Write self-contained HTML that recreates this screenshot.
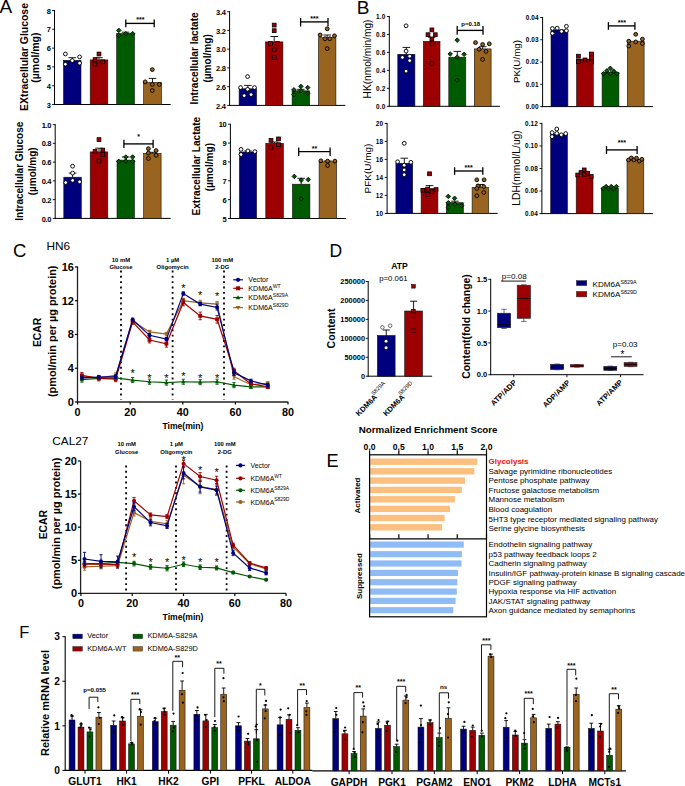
<!DOCTYPE html>
<html><head><meta charset="utf-8"><style>
html,body{margin:0;padding:0;background:#fff;}
body{width:685px;height:786px;overflow:hidden;font-family:"Liberation Sans",sans-serif;}
svg{display:block;}
</style></head><body>
<svg width="685" height="786" viewBox="0 0 685 786" font-family="&apos;Liberation Sans&apos;, sans-serif"><text x="-0.6" y="13.1" font-size="19" fill="#000">A</text>
<text x="356.7" y="13.7" font-size="19" fill="#000">B</text>
<text x="13" y="256.8" font-size="18.5" fill="#000">C</text>
<text x="329.5" y="256.7" font-size="17.5" fill="#000">D</text>
<text x="326.6" y="466.6" font-size="18.2" fill="#000">E</text>
<text x="19.3" y="637.8" font-size="16.5" fill="#000">F</text>
<line x1="54.5" y1="10" x2="54.5" y2="104.95" stroke="#000" stroke-width="1"/>
<line x1="54" y1="104.5" x2="170.7" y2="104.5" stroke="#000" stroke-width="1"/>
<line x1="52.1" y1="10.5" x2="54.5" y2="10.5" stroke="#000" stroke-width="0.9"/>
<text x="50.5" y="13.6" font-size="7.5" font-weight="bold" text-anchor="end" fill="#000" letter-spacing="-0.3">8</text>
<line x1="52.1" y1="29.3" x2="54.5" y2="29.3" stroke="#000" stroke-width="0.9"/>
<text x="50.5" y="32.4" font-size="7.5" font-weight="bold" text-anchor="end" fill="#000" letter-spacing="-0.3">7</text>
<line x1="52.1" y1="48.1" x2="54.5" y2="48.1" stroke="#000" stroke-width="0.9"/>
<text x="50.5" y="51.2" font-size="7.5" font-weight="bold" text-anchor="end" fill="#000" letter-spacing="-0.3">6</text>
<line x1="52.1" y1="66.9" x2="54.5" y2="66.9" stroke="#000" stroke-width="0.9"/>
<text x="50.5" y="70" font-size="7.5" font-weight="bold" text-anchor="end" fill="#000" letter-spacing="-0.3">5</text>
<line x1="52.1" y1="85.7" x2="54.5" y2="85.7" stroke="#000" stroke-width="0.9"/>
<text x="50.5" y="88.8" font-size="7.5" font-weight="bold" text-anchor="end" fill="#000" letter-spacing="-0.3">4</text>
<line x1="52.1" y1="104.5" x2="54.5" y2="104.5" stroke="#000" stroke-width="0.9"/>
<text x="50.5" y="107.6" font-size="7.5" font-weight="bold" text-anchor="end" fill="#000" letter-spacing="-0.3">3</text>
<rect x="63.5" y="60.3" width="17.5" height="44.2" fill="#00007e" stroke="#111" stroke-width="0.6"/>
<line x1="72.25" y1="60.3" x2="72.25" y2="57.7" stroke="#000" stroke-width="0.9"/>
<line x1="68.45" y1="57.7" x2="76.05" y2="57.7" stroke="#000" stroke-width="0.9"/>
<circle cx="65.4" cy="54" r="1.9" fill="#ffffff" stroke="#000" stroke-width="0.95"/>
<circle cx="65.4" cy="64.2" r="1.9" fill="#ffffff" stroke="#000" stroke-width="0.95"/>
<circle cx="72.3" cy="60.6" r="1.9" fill="#ffffff" stroke="#000" stroke-width="0.95"/>
<circle cx="79.6" cy="56.9" r="1.9" fill="#ffffff" stroke="#000" stroke-width="0.95"/>
<circle cx="79.6" cy="63.1" r="1.9" fill="#ffffff" stroke="#000" stroke-width="0.95"/>
<rect x="90.2" y="59.9" width="17.6" height="44.6" fill="#9c0000" stroke="#111" stroke-width="0.6"/>
<line x1="99" y1="59.9" x2="99" y2="57.7" stroke="#000" stroke-width="0.9"/>
<line x1="95.2" y1="57.7" x2="102.8" y2="57.7" stroke="#000" stroke-width="0.9"/>
<rect x="97.1" y="52.1" width="3.8" height="3.8" fill="#9c0000" stroke="#000" stroke-width="0.8"/>
<rect x="93.2" y="57.7" width="3.8" height="3.8" fill="#9c0000" stroke="#000" stroke-width="0.8"/>
<rect x="93.2" y="62.3" width="3.8" height="3.8" fill="#9c0000" stroke="#000" stroke-width="0.8"/>
<rect x="100.9" y="59.9" width="3.8" height="3.8" fill="#9c0000" stroke="#000" stroke-width="0.8"/>
<rect x="116.7" y="33.6" width="17.8" height="70.9" fill="#005a00" stroke="#111" stroke-width="0.6"/>
<line x1="125.6" y1="33.6" x2="125.6" y2="32.2" stroke="#000" stroke-width="0.9"/>
<line x1="121.8" y1="32.2" x2="129.4" y2="32.2" stroke="#000" stroke-width="0.9"/>
<polygon points="118.8,28.12 121.08,30.4 118.8,32.68 116.52,30.4" fill="#005a00" stroke="#000" stroke-width="0.8"/>
<polygon points="118.8,33.22 121.08,35.5 118.8,37.78 116.52,35.5" fill="#005a00" stroke="#000" stroke-width="0.8"/>
<polygon points="125.8,31.32 128.08,33.6 125.8,35.88 123.52,33.6" fill="#005a00" stroke="#000" stroke-width="0.8"/>
<polygon points="132.6,31.32 134.88,33.6 132.6,35.88 130.32,33.6" fill="#005a00" stroke="#000" stroke-width="0.8"/>
<rect x="143.6" y="82.5" width="17.9" height="22" fill="#98641f" stroke="#111" stroke-width="0.6"/>
<line x1="152.55" y1="82.5" x2="152.55" y2="78.4" stroke="#000" stroke-width="0.9"/>
<line x1="148.75" y1="78.4" x2="156.35" y2="78.4" stroke="#000" stroke-width="0.9"/>
<circle cx="152.3" cy="69.6" r="1.9" fill="#98641f" stroke="#000" stroke-width="0.95"/>
<circle cx="145.2" cy="81.8" r="1.9" fill="#98641f" stroke="#000" stroke-width="0.95"/>
<circle cx="152.3" cy="84.4" r="1.9" fill="#98641f" stroke="#000" stroke-width="0.95"/>
<circle cx="159.3" cy="84.4" r="1.9" fill="#98641f" stroke="#000" stroke-width="0.95"/>
<circle cx="152.3" cy="90.5" r="1.9" fill="#98641f" stroke="#000" stroke-width="0.95"/>
<text x="0" y="0" font-size="10.45" font-weight="bold" text-anchor="middle" fill="#000" transform="translate(27.5,57) rotate(-90)">EXtracellular Glucose</text>
<text x="0" y="0" font-size="10.45" font-weight="bold" text-anchor="middle" fill="#000" transform="translate(39.2,57.6) rotate(-90)">(µmol/mg)</text>
<line x1="125.8" y1="23.4" x2="154.2" y2="23.4" stroke="#000" stroke-width="1.35"/>
<line x1="125.8" y1="19.5" x2="125.8" y2="27.3" stroke="#000" stroke-width="1.3"/>
<line x1="154.2" y1="19.5" x2="154.2" y2="27.3" stroke="#000" stroke-width="1.3"/>
<text x="140.4" y="22.11" font-size="7" font-weight="bold" text-anchor="middle" fill="#000">***</text>
<line x1="229.6" y1="11.2" x2="229.6" y2="105.85" stroke="#000" stroke-width="1"/>
<line x1="229.1" y1="105.4" x2="345.4" y2="105.4" stroke="#000" stroke-width="1"/>
<line x1="227.2" y1="11.7" x2="229.6" y2="11.7" stroke="#000" stroke-width="0.9"/>
<text x="225.6" y="14.8" font-size="7.5" font-weight="bold" text-anchor="end" fill="#000" letter-spacing="-0.3">3.4</text>
<line x1="227.2" y1="30.44" x2="229.6" y2="30.44" stroke="#000" stroke-width="0.9"/>
<text x="225.6" y="33.54" font-size="7.5" font-weight="bold" text-anchor="end" fill="#000" letter-spacing="-0.3">3.2</text>
<line x1="227.2" y1="49.18" x2="229.6" y2="49.18" stroke="#000" stroke-width="0.9"/>
<text x="225.6" y="52.28" font-size="7.5" font-weight="bold" text-anchor="end" fill="#000" letter-spacing="-0.3">3.0</text>
<line x1="227.2" y1="67.92" x2="229.6" y2="67.92" stroke="#000" stroke-width="0.9"/>
<text x="225.6" y="71.02" font-size="7.5" font-weight="bold" text-anchor="end" fill="#000" letter-spacing="-0.3">2.8</text>
<line x1="227.2" y1="86.66" x2="229.6" y2="86.66" stroke="#000" stroke-width="0.9"/>
<text x="225.6" y="89.76" font-size="7.5" font-weight="bold" text-anchor="end" fill="#000" letter-spacing="-0.3">2.6</text>
<line x1="227.2" y1="105.4" x2="229.6" y2="105.4" stroke="#000" stroke-width="0.9"/>
<text x="225.6" y="108.5" font-size="7.5" font-weight="bold" text-anchor="end" fill="#000" letter-spacing="-0.3">2.4</text>
<rect x="239.1" y="88.8" width="17.5" height="16.6" fill="#00007e" stroke="#111" stroke-width="0.6"/>
<line x1="247.85" y1="88.8" x2="247.85" y2="85.4" stroke="#000" stroke-width="0.9"/>
<line x1="244.05" y1="85.4" x2="251.65" y2="85.4" stroke="#000" stroke-width="0.9"/>
<circle cx="247.6" cy="76.6" r="1.9" fill="#ffffff" stroke="#000" stroke-width="0.95"/>
<circle cx="240.6" cy="87.6" r="1.9" fill="#ffffff" stroke="#000" stroke-width="0.95"/>
<circle cx="247.6" cy="89.3" r="1.9" fill="#ffffff" stroke="#000" stroke-width="0.95"/>
<circle cx="254.5" cy="87.6" r="1.9" fill="#ffffff" stroke="#000" stroke-width="0.95"/>
<circle cx="244.2" cy="95.6" r="1.9" fill="#ffffff" stroke="#000" stroke-width="0.95"/>
<circle cx="251.1" cy="94.6" r="1.9" fill="#ffffff" stroke="#000" stroke-width="0.95"/>
<rect x="265.5" y="41.9" width="17.4" height="63.5" fill="#9c0000" stroke="#111" stroke-width="0.6"/>
<line x1="274.2" y1="41.9" x2="274.2" y2="36.5" stroke="#000" stroke-width="0.9"/>
<line x1="270.4" y1="36.5" x2="278" y2="36.5" stroke="#000" stroke-width="0.9"/>
<rect x="272.3" y="23.2" width="3.8" height="3.8" fill="#9c0000" stroke="#000" stroke-width="0.8"/>
<rect x="272.3" y="28.8" width="3.8" height="3.8" fill="#9c0000" stroke="#000" stroke-width="0.8"/>
<rect x="268.6" y="41.6" width="3.8" height="3.8" fill="#9c0000" stroke="#000" stroke-width="0.8"/>
<rect x="275.6" y="41.6" width="3.8" height="3.8" fill="#9c0000" stroke="#000" stroke-width="0.8"/>
<rect x="272.3" y="47.7" width="3.8" height="3.8" fill="#9c0000" stroke="#000" stroke-width="0.8"/>
<rect x="272.3" y="55.5" width="3.8" height="3.8" fill="#9c0000" stroke="#000" stroke-width="0.8"/>
<rect x="292.1" y="90.8" width="17.5" height="14.6" fill="#005a00" stroke="#111" stroke-width="0.6"/>
<line x1="300.85" y1="90.8" x2="300.85" y2="89.3" stroke="#000" stroke-width="0.9"/>
<line x1="297.05" y1="89.3" x2="304.65" y2="89.3" stroke="#000" stroke-width="0.9"/>
<polygon points="300.9,84.12 303.18,86.4 300.9,88.68 298.62,86.4" fill="#005a00" stroke="#000" stroke-width="0.8"/>
<polygon points="293.9,87.52 296.18,89.8 293.9,92.08 291.62,89.8" fill="#005a00" stroke="#000" stroke-width="0.8"/>
<polygon points="307.7,85.32 309.98,87.6 307.7,89.88 305.42,87.6" fill="#005a00" stroke="#000" stroke-width="0.8"/>
<polygon points="293.9,92.32 296.18,94.6 293.9,96.88 291.62,94.6" fill="#005a00" stroke="#000" stroke-width="0.8"/>
<polygon points="307.7,91.12 309.98,93.4 307.7,95.68 305.42,93.4" fill="#005a00" stroke="#000" stroke-width="0.8"/>
<polygon points="300.9,88.52 303.18,90.8 300.9,93.08 298.62,90.8" fill="#005a00" stroke="#000" stroke-width="0.8"/>
<rect x="318.4" y="37.7" width="17.5" height="67.7" fill="#98641f" stroke="#111" stroke-width="0.6"/>
<line x1="327.15" y1="37.7" x2="327.15" y2="35" stroke="#000" stroke-width="0.9"/>
<line x1="323.35" y1="35" x2="330.95" y2="35" stroke="#000" stroke-width="0.9"/>
<circle cx="327.2" cy="28.8" r="1.9" fill="#98641f" stroke="#000" stroke-width="0.95"/>
<circle cx="320.1" cy="35" r="1.9" fill="#98641f" stroke="#000" stroke-width="0.95"/>
<circle cx="334.5" cy="35.8" r="1.9" fill="#98641f" stroke="#000" stroke-width="0.95"/>
<circle cx="325" cy="38.7" r="1.9" fill="#98641f" stroke="#000" stroke-width="0.95"/>
<circle cx="329.8" cy="38.7" r="1.9" fill="#98641f" stroke="#000" stroke-width="0.95"/>
<circle cx="327.2" cy="48.6" r="1.9" fill="#98641f" stroke="#000" stroke-width="0.95"/>
<text x="0" y="0" font-size="10.1" font-weight="bold" text-anchor="middle" fill="#000" transform="translate(198.2,58.4) rotate(-90)">Intracellular lactate</text>
<text x="0" y="0" font-size="10.1" font-weight="bold" text-anchor="middle" fill="#000" transform="translate(210.7,58.4) rotate(-90)">(µmol/mg)</text>
<line x1="300.6" y1="21.9" x2="328" y2="21.9" stroke="#000" stroke-width="1.35"/>
<line x1="300.6" y1="18" x2="300.6" y2="26.5" stroke="#000" stroke-width="1.3"/>
<line x1="328" y1="18" x2="328" y2="26.5" stroke="#000" stroke-width="1.3"/>
<text x="314.3" y="20.71" font-size="7" font-weight="bold" text-anchor="middle" fill="#000">***</text>
<line x1="55.2" y1="124.1" x2="55.2" y2="218.85" stroke="#000" stroke-width="1"/>
<line x1="54.7" y1="218.4" x2="170.7" y2="218.4" stroke="#000" stroke-width="1"/>
<line x1="52.8" y1="124.6" x2="55.2" y2="124.6" stroke="#000" stroke-width="0.9"/>
<text x="51.2" y="127.7" font-size="7.5" font-weight="bold" text-anchor="end" fill="#000" letter-spacing="-0.3">1.0</text>
<line x1="52.8" y1="143.36" x2="55.2" y2="143.36" stroke="#000" stroke-width="0.9"/>
<text x="51.2" y="146.46" font-size="7.5" font-weight="bold" text-anchor="end" fill="#000" letter-spacing="-0.3">0.8</text>
<line x1="52.8" y1="162.12" x2="55.2" y2="162.12" stroke="#000" stroke-width="0.9"/>
<text x="51.2" y="165.22" font-size="7.5" font-weight="bold" text-anchor="end" fill="#000" letter-spacing="-0.3">0.6</text>
<line x1="52.8" y1="180.88" x2="55.2" y2="180.88" stroke="#000" stroke-width="0.9"/>
<text x="51.2" y="183.98" font-size="7.5" font-weight="bold" text-anchor="end" fill="#000" letter-spacing="-0.3">0.4</text>
<line x1="52.8" y1="199.64" x2="55.2" y2="199.64" stroke="#000" stroke-width="0.9"/>
<text x="51.2" y="202.74" font-size="7.5" font-weight="bold" text-anchor="end" fill="#000" letter-spacing="-0.3">0.2</text>
<line x1="52.8" y1="218.4" x2="55.2" y2="218.4" stroke="#000" stroke-width="0.9"/>
<text x="51.2" y="221.5" font-size="7.5" font-weight="bold" text-anchor="end" fill="#000" letter-spacing="-0.3">0.0</text>
<rect x="63.8" y="177.2" width="17.5" height="41.2" fill="#00007e" stroke="#111" stroke-width="0.6"/>
<line x1="72.55" y1="177.2" x2="72.55" y2="173.1" stroke="#000" stroke-width="0.9"/>
<line x1="68.75" y1="173.1" x2="76.35" y2="173.1" stroke="#000" stroke-width="0.9"/>
<circle cx="72.6" cy="166.2" r="1.9" fill="#ffffff" stroke="#000" stroke-width="0.95"/>
<circle cx="72.6" cy="173.1" r="1.9" fill="#ffffff" stroke="#000" stroke-width="0.95"/>
<circle cx="65.7" cy="182.6" r="1.9" fill="#ffffff" stroke="#000" stroke-width="0.95"/>
<circle cx="72.6" cy="180.4" r="1.9" fill="#ffffff" stroke="#000" stroke-width="0.95"/>
<circle cx="79.6" cy="181.8" r="1.9" fill="#ffffff" stroke="#000" stroke-width="0.95"/>
<rect x="90.2" y="151.9" width="17.6" height="66.5" fill="#9c0000" stroke="#111" stroke-width="0.6"/>
<line x1="99" y1="151.9" x2="99" y2="148.2" stroke="#000" stroke-width="0.9"/>
<line x1="95.2" y1="148.2" x2="102.8" y2="148.2" stroke="#000" stroke-width="0.9"/>
<rect x="97.1" y="137.7" width="3.8" height="3.8" fill="#9c0000" stroke="#000" stroke-width="0.8"/>
<rect x="93.2" y="149.4" width="3.8" height="3.8" fill="#9c0000" stroke="#000" stroke-width="0.8"/>
<rect x="100.9" y="148.2" width="3.8" height="3.8" fill="#9c0000" stroke="#000" stroke-width="0.8"/>
<rect x="100.9" y="152.6" width="3.8" height="3.8" fill="#9c0000" stroke="#000" stroke-width="0.8"/>
<rect x="97.1" y="159.2" width="3.8" height="3.8" fill="#9c0000" stroke="#000" stroke-width="0.8"/>
<rect x="117" y="160.1" width="17.5" height="58.3" fill="#005a00" stroke="#111" stroke-width="0.6"/>
<line x1="125.75" y1="160.1" x2="125.75" y2="157" stroke="#000" stroke-width="0.9"/>
<line x1="121.95" y1="157" x2="129.55" y2="157" stroke="#000" stroke-width="0.9"/>
<polygon points="125.8,154.72 128.08,157 125.8,159.28 123.52,157" fill="#005a00" stroke="#000" stroke-width="0.8"/>
<polygon points="132.6,154.72 134.88,157 132.6,159.28 130.32,157" fill="#005a00" stroke="#000" stroke-width="0.8"/>
<polygon points="118.8,159.12 121.08,161.4 118.8,163.68 116.52,161.4" fill="#005a00" stroke="#000" stroke-width="0.8"/>
<polygon points="125.8,158.82 128.08,161.1 125.8,163.38 123.52,161.1" fill="#005a00" stroke="#000" stroke-width="0.8"/>
<polygon points="132.6,159.12 134.88,161.4 132.6,163.68 130.32,161.4" fill="#005a00" stroke="#000" stroke-width="0.8"/>
<rect x="143.6" y="153.4" width="17.5" height="65" fill="#98641f" stroke="#111" stroke-width="0.6"/>
<line x1="152.35" y1="153.4" x2="152.35" y2="152.3" stroke="#000" stroke-width="0.9"/>
<line x1="148.55" y1="152.3" x2="156.15" y2="152.3" stroke="#000" stroke-width="0.9"/>
<circle cx="148.4" cy="148.7" r="1.9" fill="#98641f" stroke="#000" stroke-width="0.95"/>
<circle cx="156.1" cy="150.6" r="1.9" fill="#98641f" stroke="#000" stroke-width="0.95"/>
<circle cx="148.4" cy="153.1" r="1.9" fill="#98641f" stroke="#000" stroke-width="0.95"/>
<circle cx="156.1" cy="155.3" r="1.9" fill="#98641f" stroke="#000" stroke-width="0.95"/>
<circle cx="148.4" cy="158.5" r="1.9" fill="#98641f" stroke="#000" stroke-width="0.95"/>
<text x="0" y="0" font-size="10" font-weight="bold" text-anchor="middle" fill="#000" transform="translate(22.8,171.2) rotate(-90)">Intracellular Glucose</text>
<text x="0" y="0" font-size="10" font-weight="bold" text-anchor="middle" fill="#000" transform="translate(35.8,171.3) rotate(-90)">(µmol/mg)</text>
<line x1="123.9" y1="143.9" x2="153.1" y2="143.9" stroke="#000" stroke-width="1.35"/>
<line x1="123.9" y1="139.7" x2="123.9" y2="147.9" stroke="#000" stroke-width="1.3"/>
<line x1="153.1" y1="139.7" x2="153.1" y2="147.9" stroke="#000" stroke-width="1.3"/>
<text x="138.6" y="139.41" font-size="7" font-weight="bold" text-anchor="middle" fill="#000">*</text>
<line x1="230.4" y1="123.7" x2="230.4" y2="218.95" stroke="#000" stroke-width="1"/>
<line x1="229.9" y1="218.5" x2="346.1" y2="218.5" stroke="#000" stroke-width="1"/>
<line x1="228" y1="124.2" x2="230.4" y2="124.2" stroke="#000" stroke-width="0.9"/>
<text x="226.4" y="127.3" font-size="7.5" font-weight="bold" text-anchor="end" fill="#000" letter-spacing="-0.3">10</text>
<line x1="228" y1="143.06" x2="230.4" y2="143.06" stroke="#000" stroke-width="0.9"/>
<text x="226.4" y="146.16" font-size="7.5" font-weight="bold" text-anchor="end" fill="#000" letter-spacing="-0.3">9</text>
<line x1="228" y1="161.92" x2="230.4" y2="161.92" stroke="#000" stroke-width="0.9"/>
<text x="226.4" y="165.02" font-size="7.5" font-weight="bold" text-anchor="end" fill="#000" letter-spacing="-0.3">8</text>
<line x1="228" y1="180.78" x2="230.4" y2="180.78" stroke="#000" stroke-width="0.9"/>
<text x="226.4" y="183.88" font-size="7.5" font-weight="bold" text-anchor="end" fill="#000" letter-spacing="-0.3">7</text>
<line x1="228" y1="199.64" x2="230.4" y2="199.64" stroke="#000" stroke-width="0.9"/>
<text x="226.4" y="202.74" font-size="7.5" font-weight="bold" text-anchor="end" fill="#000" letter-spacing="-0.3">6</text>
<line x1="228" y1="218.5" x2="230.4" y2="218.5" stroke="#000" stroke-width="0.9"/>
<text x="226.4" y="221.6" font-size="7.5" font-weight="bold" text-anchor="end" fill="#000" letter-spacing="-0.3">5</text>
<rect x="239.4" y="152" width="17.2" height="66.5" fill="#00007e" stroke="#111" stroke-width="0.6"/>
<line x1="248" y1="152" x2="248" y2="151" stroke="#000" stroke-width="0.9"/>
<line x1="244.2" y1="151" x2="251.8" y2="151" stroke="#000" stroke-width="0.9"/>
<circle cx="241" cy="149.4" r="1.9" fill="#ffffff" stroke="#000" stroke-width="0.95"/>
<circle cx="241" cy="154.5" r="1.9" fill="#ffffff" stroke="#000" stroke-width="0.95"/>
<circle cx="247.9" cy="150.9" r="1.9" fill="#ffffff" stroke="#000" stroke-width="0.95"/>
<circle cx="254.9" cy="151.6" r="1.9" fill="#ffffff" stroke="#000" stroke-width="0.95"/>
<rect x="265.8" y="143.3" width="17.6" height="75.2" fill="#9c0000" stroke="#111" stroke-width="0.6"/>
<line x1="274.6" y1="143.3" x2="274.6" y2="142" stroke="#000" stroke-width="0.9"/>
<line x1="270.8" y1="142" x2="278.4" y2="142" stroke="#000" stroke-width="0.9"/>
<rect x="269.1" y="138.5" width="3.8" height="3.8" fill="#9c0000" stroke="#000" stroke-width="0.8"/>
<rect x="276.6" y="137" width="3.8" height="3.8" fill="#9c0000" stroke="#000" stroke-width="0.8"/>
<rect x="276.6" y="142.8" width="3.8" height="3.8" fill="#9c0000" stroke="#000" stroke-width="0.8"/>
<rect x="269.1" y="145.6" width="3.8" height="3.8" fill="#9c0000" stroke="#000" stroke-width="0.8"/>
<rect x="292.4" y="184.2" width="17.5" height="34.3" fill="#005a00" stroke="#111" stroke-width="0.6"/>
<line x1="301.15" y1="184.2" x2="301.15" y2="178.3" stroke="#000" stroke-width="0.9"/>
<line x1="297.35" y1="178.3" x2="304.95" y2="178.3" stroke="#000" stroke-width="0.9"/>
<polygon points="294.3,174.12 296.58,176.4 294.3,178.68 292.02,176.4" fill="#005a00" stroke="#000" stroke-width="0.8"/>
<polygon points="301.2,177.82 303.48,180.1 301.2,182.38 298.92,180.1" fill="#005a00" stroke="#000" stroke-width="0.8"/>
<polygon points="308.2,177.32 310.48,179.6 308.2,181.88 305.92,179.6" fill="#005a00" stroke="#000" stroke-width="0.8"/>
<polygon points="301.2,196.52 303.48,198.8 301.2,201.08 298.92,198.8" fill="#005a00" stroke="#000" stroke-width="0.8"/>
<rect x="319.1" y="161.8" width="17.5" height="56.7" fill="#98641f" stroke="#111" stroke-width="0.6"/>
<line x1="327.85" y1="161.8" x2="327.85" y2="161" stroke="#000" stroke-width="0.9"/>
<line x1="324.05" y1="161" x2="331.65" y2="161" stroke="#000" stroke-width="0.9"/>
<circle cx="320.9" cy="160.8" r="1.9" fill="#98641f" stroke="#000" stroke-width="0.95"/>
<circle cx="327.6" cy="161.1" r="1.9" fill="#98641f" stroke="#000" stroke-width="0.95"/>
<circle cx="334.9" cy="161.1" r="1.9" fill="#98641f" stroke="#000" stroke-width="0.95"/>
<circle cx="327.6" cy="165.5" r="1.9" fill="#98641f" stroke="#000" stroke-width="0.95"/>
<text x="0" y="0" font-size="10.1" font-weight="bold" text-anchor="middle" fill="#000" transform="translate(200.4,166.2) rotate(-90)">Extracellular Lactate</text>
<text x="0" y="0" font-size="10.1" font-weight="bold" text-anchor="middle" fill="#000" transform="translate(213,167.1) rotate(-90)">(µmol/mg)</text>
<line x1="298.7" y1="151.6" x2="330.1" y2="151.6" stroke="#000" stroke-width="1.35"/>
<line x1="298.7" y1="147.5" x2="298.7" y2="155.9" stroke="#000" stroke-width="1.3"/>
<line x1="330.1" y1="147.5" x2="330.1" y2="155.9" stroke="#000" stroke-width="1.3"/>
<text x="314.4" y="151.11" font-size="7" font-weight="bold" text-anchor="middle" fill="#000">**</text>
<line x1="389.3" y1="16" x2="389.3" y2="106.75" stroke="#000" stroke-width="1"/>
<line x1="388.8" y1="106.3" x2="499.9" y2="106.3" stroke="#000" stroke-width="1"/>
<line x1="386.9" y1="16.5" x2="389.3" y2="16.5" stroke="#000" stroke-width="0.9"/>
<text x="385.3" y="18.8" font-size="6.4" font-weight="bold" text-anchor="end" fill="#000" letter-spacing="0.1">1.0</text>
<line x1="386.9" y1="34.46" x2="389.3" y2="34.46" stroke="#000" stroke-width="0.9"/>
<text x="385.3" y="36.76" font-size="6.4" font-weight="bold" text-anchor="end" fill="#000" letter-spacing="0.1">0.8</text>
<line x1="386.9" y1="52.42" x2="389.3" y2="52.42" stroke="#000" stroke-width="0.9"/>
<text x="385.3" y="54.72" font-size="6.4" font-weight="bold" text-anchor="end" fill="#000" letter-spacing="0.1">0.6</text>
<line x1="386.9" y1="70.38" x2="389.3" y2="70.38" stroke="#000" stroke-width="0.9"/>
<text x="385.3" y="72.68" font-size="6.4" font-weight="bold" text-anchor="end" fill="#000" letter-spacing="0.1">0.4</text>
<line x1="386.9" y1="88.34" x2="389.3" y2="88.34" stroke="#000" stroke-width="0.9"/>
<text x="385.3" y="90.64" font-size="6.4" font-weight="bold" text-anchor="end" fill="#000" letter-spacing="0.1">0.2</text>
<line x1="386.9" y1="106.3" x2="389.3" y2="106.3" stroke="#000" stroke-width="0.9"/>
<text x="385.3" y="108.6" font-size="6.4" font-weight="bold" text-anchor="end" fill="#000" letter-spacing="0.1">0.0</text>
<rect x="397.8" y="54.3" width="17.1" height="52" fill="#00007e" stroke="#111" stroke-width="0.6"/>
<line x1="406.35" y1="54.3" x2="406.35" y2="47.4" stroke="#000" stroke-width="0.9"/>
<line x1="402.55" y1="47.4" x2="410.15" y2="47.4" stroke="#000" stroke-width="0.9"/>
<circle cx="406.1" cy="25.8" r="1.9" fill="#ffffff" stroke="#000" stroke-width="0.95"/>
<circle cx="406.1" cy="51.1" r="1.9" fill="#ffffff" stroke="#000" stroke-width="0.95"/>
<circle cx="402.4" cy="57.4" r="1.9" fill="#ffffff" stroke="#000" stroke-width="0.95"/>
<circle cx="409.7" cy="56.2" r="1.9" fill="#ffffff" stroke="#000" stroke-width="0.95"/>
<circle cx="409.7" cy="60.6" r="1.9" fill="#ffffff" stroke="#000" stroke-width="0.95"/>
<circle cx="406.1" cy="71.1" r="1.9" fill="#ffffff" stroke="#000" stroke-width="0.95"/>
<rect x="423.3" y="41.3" width="16.7" height="65" fill="#9c0000" stroke="#111" stroke-width="0.6"/>
<line x1="431.65" y1="41.3" x2="431.65" y2="37.2" stroke="#000" stroke-width="0.9"/>
<line x1="427.85" y1="37.2" x2="435.45" y2="37.2" stroke="#000" stroke-width="0.9"/>
<rect x="430" y="28" width="3.8" height="3.8" fill="#9c0000" stroke="#000" stroke-width="0.8"/>
<rect x="426.1" y="32.8" width="3.8" height="3.8" fill="#9c0000" stroke="#000" stroke-width="0.8"/>
<rect x="433.4" y="32.8" width="3.8" height="3.8" fill="#9c0000" stroke="#000" stroke-width="0.8"/>
<rect x="430" y="37.2" width="3.8" height="3.8" fill="#9c0000" stroke="#000" stroke-width="0.8"/>
<rect x="430" y="41.6" width="3.8" height="3.8" fill="#9c0000" stroke="#000" stroke-width="0.8"/>
<rect x="430" y="61.6" width="3.8" height="3.8" fill="#9c0000" stroke="#000" stroke-width="0.8"/>
<rect x="448.8" y="57.2" width="17" height="49.1" fill="#005a00" stroke="#111" stroke-width="0.6"/>
<line x1="457.3" y1="57.2" x2="457.3" y2="51.4" stroke="#000" stroke-width="0.9"/>
<line x1="453.5" y1="51.4" x2="461.1" y2="51.4" stroke="#000" stroke-width="0.9"/>
<polygon points="457.2,37.82 459.48,40.1 457.2,42.38 454.92,40.1" fill="#005a00" stroke="#000" stroke-width="0.8"/>
<polygon points="450.2,51.72 452.48,54 450.2,56.28 447.92,54" fill="#005a00" stroke="#000" stroke-width="0.8"/>
<polygon points="457.2,54.92 459.48,57.2 457.2,59.48 454.92,57.2" fill="#005a00" stroke="#000" stroke-width="0.8"/>
<polygon points="464.1,52.02 466.38,54.3 464.1,56.58 461.82,54.3" fill="#005a00" stroke="#000" stroke-width="0.8"/>
<polygon points="457.2,78.02 459.48,80.3 457.2,82.58 454.92,80.3" fill="#005a00" stroke="#000" stroke-width="0.8"/>
<rect x="474.3" y="48.9" width="16.8" height="57.4" fill="#98641f" stroke="#111" stroke-width="0.6"/>
<line x1="482.7" y1="48.9" x2="482.7" y2="46.7" stroke="#000" stroke-width="0.9"/>
<line x1="478.9" y1="46.7" x2="486.5" y2="46.7" stroke="#000" stroke-width="0.9"/>
<circle cx="475.5" cy="42.6" r="1.9" fill="#98641f" stroke="#000" stroke-width="0.95"/>
<circle cx="482.6" cy="44.5" r="1.9" fill="#98641f" stroke="#000" stroke-width="0.95"/>
<circle cx="489.3" cy="43.8" r="1.9" fill="#98641f" stroke="#000" stroke-width="0.95"/>
<circle cx="479.1" cy="49.3" r="1.9" fill="#98641f" stroke="#000" stroke-width="0.95"/>
<circle cx="486" cy="51.4" r="1.9" fill="#98641f" stroke="#000" stroke-width="0.95"/>
<circle cx="482.6" cy="59.4" r="1.9" fill="#98641f" stroke="#000" stroke-width="0.95"/>
<text x="0" y="0" font-size="10.14" text-anchor="middle" fill="#000" transform="translate(371,59) rotate(-90)">HK(nmol/min/mg)</text>
<line x1="457.2" y1="30.4" x2="483" y2="30.4" stroke="#000" stroke-width="1.35"/>
<line x1="457.2" y1="26" x2="457.2" y2="34.7" stroke="#000" stroke-width="1.3"/>
<line x1="483" y1="26" x2="483" y2="34.7" stroke="#000" stroke-width="1.3"/>
<text x="470.7" y="25.6" font-size="6" font-weight="bold" text-anchor="middle" fill="#000">p=0.18</text>
<line x1="542.6" y1="17" x2="542.6" y2="107.05" stroke="#000" stroke-width="1"/>
<line x1="542.1" y1="106.6" x2="652.9" y2="106.6" stroke="#000" stroke-width="1"/>
<line x1="540.2" y1="17.5" x2="542.6" y2="17.5" stroke="#000" stroke-width="0.9"/>
<text x="538.6" y="19.8" font-size="6.4" font-weight="bold" text-anchor="end" fill="#000" letter-spacing="0.1">0.04</text>
<line x1="540.2" y1="39.77" x2="542.6" y2="39.77" stroke="#000" stroke-width="0.9"/>
<text x="538.6" y="42.07" font-size="6.4" font-weight="bold" text-anchor="end" fill="#000" letter-spacing="0.1">0.03</text>
<line x1="540.2" y1="62.05" x2="542.6" y2="62.05" stroke="#000" stroke-width="0.9"/>
<text x="538.6" y="64.35" font-size="6.4" font-weight="bold" text-anchor="end" fill="#000" letter-spacing="0.1">0.02</text>
<line x1="540.2" y1="84.32" x2="542.6" y2="84.32" stroke="#000" stroke-width="0.9"/>
<text x="538.6" y="86.62" font-size="6.4" font-weight="bold" text-anchor="end" fill="#000" letter-spacing="0.1">0.01</text>
<line x1="540.2" y1="106.6" x2="542.6" y2="106.6" stroke="#000" stroke-width="0.9"/>
<text x="538.6" y="108.9" font-size="6.4" font-weight="bold" text-anchor="end" fill="#000" letter-spacing="0.1">0.00</text>
<rect x="551" y="29.9" width="16.9" height="76.7" fill="#00007e" stroke="#111" stroke-width="0.6"/>
<circle cx="552.4" cy="28.5" r="1.9" fill="#ffffff" stroke="#000" stroke-width="0.95"/>
<circle cx="552.4" cy="33.3" r="1.9" fill="#ffffff" stroke="#000" stroke-width="0.95"/>
<circle cx="557.2" cy="28.2" r="1.9" fill="#ffffff" stroke="#000" stroke-width="0.95"/>
<circle cx="561.6" cy="31.4" r="1.9" fill="#ffffff" stroke="#000" stroke-width="0.95"/>
<circle cx="566.4" cy="26.3" r="1.9" fill="#ffffff" stroke="#000" stroke-width="0.95"/>
<circle cx="566.4" cy="30.7" r="1.9" fill="#ffffff" stroke="#000" stroke-width="0.95"/>
<rect x="576.6" y="59.1" width="16.7" height="47.5" fill="#9c0000" stroke="#111" stroke-width="0.6"/>
<rect x="576.5" y="54.3" width="3.8" height="3.8" fill="#9c0000" stroke="#000" stroke-width="0.8"/>
<rect x="576.5" y="59.7" width="3.8" height="3.8" fill="#9c0000" stroke="#000" stroke-width="0.8"/>
<rect x="583.1" y="58" width="3.8" height="3.8" fill="#9c0000" stroke="#000" stroke-width="0.8"/>
<rect x="589.6" y="52.1" width="3.8" height="3.8" fill="#9c0000" stroke="#000" stroke-width="0.8"/>
<rect x="589.6" y="55.8" width="3.8" height="3.8" fill="#9c0000" stroke="#000" stroke-width="0.8"/>
<rect x="589.6" y="60.1" width="3.8" height="3.8" fill="#9c0000" stroke="#000" stroke-width="0.8"/>
<rect x="602.1" y="72.4" width="16.8" height="34.2" fill="#005a00" stroke="#111" stroke-width="0.6"/>
<polygon points="603.7,71.42 605.98,73.7 603.7,75.98 601.42,73.7" fill="#005a00" stroke="#000" stroke-width="0.8"/>
<polygon points="606.9,68.52 609.18,70.8 606.9,73.08 604.62,70.8" fill="#005a00" stroke="#000" stroke-width="0.8"/>
<polygon points="610.3,66.02 612.58,68.3 610.3,70.58 608.02,68.3" fill="#005a00" stroke="#000" stroke-width="0.8"/>
<polygon points="613.6,68.82 615.88,71.1 613.6,73.38 611.32,71.1" fill="#005a00" stroke="#000" stroke-width="0.8"/>
<polygon points="610.3,71.42 612.58,73.7 610.3,75.98 608.02,73.7" fill="#005a00" stroke="#000" stroke-width="0.8"/>
<polygon points="616.8,71.42 619.08,73.7 616.8,75.98 614.52,73.7" fill="#005a00" stroke="#000" stroke-width="0.8"/>
<rect x="627.3" y="41.2" width="16.8" height="65.4" fill="#98641f" stroke="#111" stroke-width="0.6"/>
<circle cx="635.7" cy="34.3" r="1.9" fill="#98641f" stroke="#000" stroke-width="0.95"/>
<circle cx="628.8" cy="41.2" r="1.9" fill="#98641f" stroke="#000" stroke-width="0.95"/>
<circle cx="628.8" cy="46" r="1.9" fill="#98641f" stroke="#000" stroke-width="0.95"/>
<circle cx="635.7" cy="41.9" r="1.9" fill="#98641f" stroke="#000" stroke-width="0.95"/>
<circle cx="642.4" cy="39.1" r="1.9" fill="#98641f" stroke="#000" stroke-width="0.95"/>
<circle cx="642.4" cy="43.5" r="1.9" fill="#98641f" stroke="#000" stroke-width="0.95"/>
<text x="0" y="0" font-size="9.85" text-anchor="middle" fill="#000" transform="translate(519.7,61.5) rotate(-90)">PK(U/mg)</text>
<line x1="608.4" y1="25.9" x2="634.9" y2="25.9" stroke="#000" stroke-width="1.35"/>
<line x1="608.4" y1="22.2" x2="608.4" y2="29.8" stroke="#000" stroke-width="1.3"/>
<line x1="634.9" y1="22.2" x2="634.9" y2="29.8" stroke="#000" stroke-width="1.3"/>
<text x="621.8" y="25.21" font-size="7" font-weight="bold" text-anchor="middle" fill="#000">***</text>
<line x1="387.1" y1="122.9" x2="387.1" y2="213.85" stroke="#000" stroke-width="1"/>
<line x1="386.6" y1="213.4" x2="497.7" y2="213.4" stroke="#000" stroke-width="1"/>
<line x1="384.7" y1="123.4" x2="387.1" y2="123.4" stroke="#000" stroke-width="0.9"/>
<text x="383.1" y="125.7" font-size="6.4" font-weight="bold" text-anchor="end" fill="#000" letter-spacing="0.1">20</text>
<line x1="384.7" y1="141.4" x2="387.1" y2="141.4" stroke="#000" stroke-width="0.9"/>
<text x="383.1" y="143.7" font-size="6.4" font-weight="bold" text-anchor="end" fill="#000" letter-spacing="0.1">18</text>
<line x1="384.7" y1="159.4" x2="387.1" y2="159.4" stroke="#000" stroke-width="0.9"/>
<text x="383.1" y="161.7" font-size="6.4" font-weight="bold" text-anchor="end" fill="#000" letter-spacing="0.1">16</text>
<line x1="384.7" y1="177.4" x2="387.1" y2="177.4" stroke="#000" stroke-width="0.9"/>
<text x="383.1" y="179.7" font-size="6.4" font-weight="bold" text-anchor="end" fill="#000" letter-spacing="0.1">14</text>
<line x1="384.7" y1="195.4" x2="387.1" y2="195.4" stroke="#000" stroke-width="0.9"/>
<text x="383.1" y="197.7" font-size="6.4" font-weight="bold" text-anchor="end" fill="#000" letter-spacing="0.1">12</text>
<line x1="384.7" y1="213.4" x2="387.1" y2="213.4" stroke="#000" stroke-width="0.9"/>
<text x="383.1" y="215.7" font-size="6.4" font-weight="bold" text-anchor="end" fill="#000" letter-spacing="0.1">10</text>
<rect x="395.9" y="163.3" width="16.8" height="50.1" fill="#00007e" stroke="#111" stroke-width="0.6"/>
<line x1="404.3" y1="163.3" x2="404.3" y2="158.2" stroke="#000" stroke-width="0.9"/>
<line x1="400.5" y1="158.2" x2="408.1" y2="158.2" stroke="#000" stroke-width="0.9"/>
<circle cx="404.2" cy="143.3" r="1.9" fill="#ffffff" stroke="#000" stroke-width="0.95"/>
<circle cx="397.6" cy="161.8" r="1.9" fill="#ffffff" stroke="#000" stroke-width="0.95"/>
<circle cx="404.2" cy="165.2" r="1.9" fill="#ffffff" stroke="#000" stroke-width="0.95"/>
<circle cx="410.9" cy="162.3" r="1.9" fill="#ffffff" stroke="#000" stroke-width="0.95"/>
<circle cx="404.2" cy="169.9" r="1.9" fill="#ffffff" stroke="#000" stroke-width="0.95"/>
<circle cx="404.2" cy="174.7" r="1.9" fill="#ffffff" stroke="#000" stroke-width="0.95"/>
<rect x="421.1" y="188.5" width="16.8" height="24.9" fill="#9c0000" stroke="#111" stroke-width="0.6"/>
<line x1="429.5" y1="188.5" x2="429.5" y2="185.6" stroke="#000" stroke-width="0.9"/>
<line x1="425.7" y1="185.6" x2="433.3" y2="185.6" stroke="#000" stroke-width="0.9"/>
<rect x="427.6" y="171.9" width="3.8" height="3.8" fill="#9c0000" stroke="#000" stroke-width="0.8"/>
<rect x="421" y="188.4" width="3.8" height="3.8" fill="#9c0000" stroke="#000" stroke-width="0.8"/>
<rect x="425.7" y="187.2" width="3.8" height="3.8" fill="#9c0000" stroke="#000" stroke-width="0.8"/>
<rect x="430" y="189.9" width="3.8" height="3.8" fill="#9c0000" stroke="#000" stroke-width="0.8"/>
<rect x="434.1" y="187.7" width="3.8" height="3.8" fill="#9c0000" stroke="#000" stroke-width="0.8"/>
<rect x="425.7" y="192.5" width="3.8" height="3.8" fill="#9c0000" stroke="#000" stroke-width="0.8"/>
<rect x="446.3" y="202.7" width="17.1" height="10.7" fill="#005a00" stroke="#111" stroke-width="0.6"/>
<line x1="454.85" y1="202.7" x2="454.85" y2="201.2" stroke="#000" stroke-width="0.9"/>
<line x1="451.05" y1="201.2" x2="458.65" y2="201.2" stroke="#000" stroke-width="0.9"/>
<polygon points="448.3,194.12 450.58,196.4 448.3,198.68 446.02,196.4" fill="#005a00" stroke="#000" stroke-width="0.8"/>
<polygon points="454.6,196.02 456.88,198.3 454.6,200.58 452.32,198.3" fill="#005a00" stroke="#000" stroke-width="0.8"/>
<polygon points="448.3,200.42 450.58,202.7 448.3,204.98 446.02,202.7" fill="#005a00" stroke="#000" stroke-width="0.8"/>
<polygon points="454.9,201.92 457.18,204.2 454.9,206.48 452.62,204.2" fill="#005a00" stroke="#000" stroke-width="0.8"/>
<polygon points="461.6,203.32 463.88,205.6 461.6,207.88 459.32,205.6" fill="#005a00" stroke="#000" stroke-width="0.8"/>
<polygon points="448.3,205.22 450.58,207.5 448.3,209.78 446.02,207.5" fill="#005a00" stroke="#000" stroke-width="0.8"/>
<rect x="472.1" y="187.4" width="16.5" height="26" fill="#98641f" stroke="#111" stroke-width="0.6"/>
<line x1="480.35" y1="187.4" x2="480.35" y2="184.5" stroke="#000" stroke-width="0.9"/>
<line x1="476.55" y1="184.5" x2="484.15" y2="184.5" stroke="#000" stroke-width="0.9"/>
<circle cx="476.8" cy="179.8" r="1.9" fill="#98641f" stroke="#000" stroke-width="0.95"/>
<circle cx="484.1" cy="179.8" r="1.9" fill="#98641f" stroke="#000" stroke-width="0.95"/>
<circle cx="478" cy="185.9" r="1.9" fill="#98641f" stroke="#000" stroke-width="0.95"/>
<circle cx="483.8" cy="186.6" r="1.9" fill="#98641f" stroke="#000" stroke-width="0.95"/>
<circle cx="476.8" cy="188.5" r="1.9" fill="#98641f" stroke="#000" stroke-width="0.95"/>
<circle cx="483.8" cy="192.5" r="1.9" fill="#98641f" stroke="#000" stroke-width="0.95"/>
<circle cx="476.8" cy="195.8" r="1.9" fill="#98641f" stroke="#000" stroke-width="0.95"/>
<text x="0" y="0" font-size="9.98" text-anchor="middle" fill="#000" transform="translate(371.4,168.5) rotate(-90)">PFK(U/mg)</text>
<line x1="454.6" y1="171" x2="482.8" y2="171" stroke="#000" stroke-width="1.35"/>
<line x1="454.6" y1="167.3" x2="454.6" y2="174.8" stroke="#000" stroke-width="1.3"/>
<line x1="482.8" y1="167.3" x2="482.8" y2="174.8" stroke="#000" stroke-width="1.3"/>
<text x="468.7" y="170.31" font-size="7" font-weight="bold" text-anchor="middle" fill="#000">***</text>
<line x1="541.9" y1="122.9" x2="541.9" y2="214.05" stroke="#000" stroke-width="1"/>
<line x1="541.4" y1="213.6" x2="652.9" y2="213.6" stroke="#000" stroke-width="1"/>
<line x1="539.5" y1="123.4" x2="541.9" y2="123.4" stroke="#000" stroke-width="0.9"/>
<text x="537.9" y="125.7" font-size="6.4" font-weight="bold" text-anchor="end" fill="#000" letter-spacing="0.1">0.12</text>
<line x1="539.5" y1="145.95" x2="541.9" y2="145.95" stroke="#000" stroke-width="0.9"/>
<text x="537.9" y="148.25" font-size="6.4" font-weight="bold" text-anchor="end" fill="#000" letter-spacing="0.1">0.10</text>
<line x1="539.5" y1="168.5" x2="541.9" y2="168.5" stroke="#000" stroke-width="0.9"/>
<text x="537.9" y="170.8" font-size="6.4" font-weight="bold" text-anchor="end" fill="#000" letter-spacing="0.1">0.08</text>
<line x1="539.5" y1="191.05" x2="541.9" y2="191.05" stroke="#000" stroke-width="0.9"/>
<text x="537.9" y="193.35" font-size="6.4" font-weight="bold" text-anchor="end" fill="#000" letter-spacing="0.1">0.06</text>
<line x1="539.5" y1="213.6" x2="541.9" y2="213.6" stroke="#000" stroke-width="0.9"/>
<text x="537.9" y="215.9" font-size="6.4" font-weight="bold" text-anchor="end" fill="#000" letter-spacing="0.1">0.04</text>
<rect x="550.7" y="134.1" width="16.7" height="79.5" fill="#00007e" stroke="#111" stroke-width="0.6"/>
<circle cx="552.1" cy="132.6" r="1.9" fill="#ffffff" stroke="#000" stroke-width="0.95"/>
<circle cx="552.1" cy="136.6" r="1.9" fill="#ffffff" stroke="#000" stroke-width="0.95"/>
<circle cx="556.8" cy="129" r="1.9" fill="#ffffff" stroke="#000" stroke-width="0.95"/>
<circle cx="556.8" cy="133.4" r="1.9" fill="#ffffff" stroke="#000" stroke-width="0.95"/>
<circle cx="561.3" cy="134.8" r="1.9" fill="#ffffff" stroke="#000" stroke-width="0.95"/>
<circle cx="565.7" cy="133.6" r="1.9" fill="#ffffff" stroke="#000" stroke-width="0.95"/>
<rect x="576.2" y="175.7" width="16.8" height="37.9" fill="#9c0000" stroke="#111" stroke-width="0.6"/>
<rect x="575.8" y="173.1" width="3.8" height="3.8" fill="#9c0000" stroke="#000" stroke-width="0.8"/>
<rect x="579.1" y="170.6" width="3.8" height="3.8" fill="#9c0000" stroke="#000" stroke-width="0.8"/>
<rect x="582.3" y="168" width="3.8" height="3.8" fill="#9c0000" stroke="#000" stroke-width="0.8"/>
<rect x="582.3" y="172.3" width="3.8" height="3.8" fill="#9c0000" stroke="#000" stroke-width="0.8"/>
<rect x="585.7" y="171.3" width="3.8" height="3.8" fill="#9c0000" stroke="#000" stroke-width="0.8"/>
<rect x="589.3" y="174.5" width="3.8" height="3.8" fill="#9c0000" stroke="#000" stroke-width="0.8"/>
<rect x="601.4" y="188.1" width="16.9" height="25.5" fill="#005a00" stroke="#111" stroke-width="0.6"/>
<polygon points="603.2,186.22 605.48,188.5 603.2,190.78 600.92,188.5" fill="#005a00" stroke="#000" stroke-width="0.8"/>
<polygon points="606.1,184.32 608.38,186.6 606.1,188.88 603.82,186.6" fill="#005a00" stroke="#000" stroke-width="0.8"/>
<polygon points="608.3,186.22 610.58,188.5 608.3,190.78 606.02,188.5" fill="#005a00" stroke="#000" stroke-width="0.8"/>
<polygon points="611.2,184.32 613.48,186.6 611.2,188.88 608.92,186.6" fill="#005a00" stroke="#000" stroke-width="0.8"/>
<polygon points="613.7,186.52 615.98,188.8 613.7,191.08 611.42,188.8" fill="#005a00" stroke="#000" stroke-width="0.8"/>
<polygon points="616.4,184.32 618.68,186.6 616.4,188.88 614.12,186.6" fill="#005a00" stroke="#000" stroke-width="0.8"/>
<rect x="627" y="160.1" width="16.8" height="53.5" fill="#98641f" stroke="#111" stroke-width="0.6"/>
<circle cx="628.5" cy="159.9" r="1.9" fill="#98641f" stroke="#000" stroke-width="0.95"/>
<circle cx="631.4" cy="157.9" r="1.9" fill="#98641f" stroke="#000" stroke-width="0.95"/>
<circle cx="633.9" cy="159.9" r="1.9" fill="#98641f" stroke="#000" stroke-width="0.95"/>
<circle cx="636.5" cy="158.2" r="1.9" fill="#98641f" stroke="#000" stroke-width="0.95"/>
<circle cx="639.3" cy="161.1" r="1.9" fill="#98641f" stroke="#000" stroke-width="0.95"/>
<circle cx="641.9" cy="159.3" r="1.9" fill="#98641f" stroke="#000" stroke-width="0.95"/>
<text x="0" y="0" font-size="10.3" text-anchor="middle" fill="#000" transform="translate(520.3,168) rotate(-90)">LDH(mmol/L/ug)</text>
<line x1="606.5" y1="149.9" x2="637.1" y2="149.9" stroke="#000" stroke-width="1.35"/>
<line x1="606.5" y1="146.1" x2="606.5" y2="153.9" stroke="#000" stroke-width="1.3"/>
<line x1="637.1" y1="146.1" x2="637.1" y2="153.9" stroke="#000" stroke-width="1.3"/>
<text x="621.8" y="145.11" font-size="7" font-weight="bold" text-anchor="middle" fill="#000">***</text>
<line x1="77.5" y1="266.4" x2="77.5" y2="402.6" stroke="#222" stroke-width="1.3"/>
<line x1="76.9" y1="402" x2="288.2" y2="402" stroke="#222" stroke-width="1.3"/>
<line x1="74.9" y1="402" x2="77.5" y2="402" stroke="#000" stroke-width="1.2"/>
<text x="73.9" y="405.9" font-size="11" font-weight="bold" text-anchor="end" fill="#000">0</text>
<line x1="74.9" y1="368.24" x2="77.5" y2="368.24" stroke="#000" stroke-width="1.2"/>
<text x="73.9" y="372.14" font-size="11" font-weight="bold" text-anchor="end" fill="#000">4</text>
<line x1="74.9" y1="334.48" x2="77.5" y2="334.48" stroke="#000" stroke-width="1.2"/>
<text x="73.9" y="338.38" font-size="11" font-weight="bold" text-anchor="end" fill="#000">8</text>
<line x1="74.9" y1="300.72" x2="77.5" y2="300.72" stroke="#000" stroke-width="1.2"/>
<text x="73.9" y="304.62" font-size="11" font-weight="bold" text-anchor="end" fill="#000">12</text>
<line x1="74.9" y1="266.96" x2="77.5" y2="266.96" stroke="#000" stroke-width="1.2"/>
<text x="73.9" y="270.86" font-size="11" font-weight="bold" text-anchor="end" fill="#000">16</text>
<line x1="77.6" y1="402" x2="77.6" y2="404.6" stroke="#000" stroke-width="1.2"/>
<text x="77.6" y="416.2" font-size="10.8" font-weight="bold" text-anchor="middle" fill="#000">0</text>
<line x1="130.2" y1="402" x2="130.2" y2="404.6" stroke="#000" stroke-width="1.2"/>
<text x="130.2" y="416.2" font-size="10.8" font-weight="bold" text-anchor="middle" fill="#000">20</text>
<line x1="182.8" y1="402" x2="182.8" y2="404.6" stroke="#000" stroke-width="1.2"/>
<text x="182.8" y="416.2" font-size="10.8" font-weight="bold" text-anchor="middle" fill="#000">40</text>
<line x1="235.4" y1="402" x2="235.4" y2="404.6" stroke="#000" stroke-width="1.2"/>
<text x="235.4" y="416.2" font-size="10.8" font-weight="bold" text-anchor="middle" fill="#000">60</text>
<line x1="288" y1="402" x2="288" y2="404.6" stroke="#000" stroke-width="1.2"/>
<text x="288" y="416.2" font-size="10.8" font-weight="bold" text-anchor="middle" fill="#000">80</text>
<text x="182.9" y="429.3" font-size="8.6" font-weight="bold" text-anchor="middle" fill="#000">Time(min)</text>
<line x1="121" y1="270.5" x2="121" y2="399.5" stroke="#000" stroke-width="1.8" stroke-dasharray="1.9 3.45"/>
<line x1="172.6" y1="270.5" x2="172.6" y2="399.5" stroke="#000" stroke-width="1.8" stroke-dasharray="1.9 3.45"/>
<line x1="224" y1="270.5" x2="224" y2="399.5" stroke="#000" stroke-width="1.8" stroke-dasharray="1.9 3.45"/>
<text x="121" y="262.1" font-size="5.9" font-weight="bold" text-anchor="middle" fill="#000">10 mM</text>
<text x="121" y="269.1" font-size="5.9" font-weight="bold" text-anchor="middle" fill="#000">Glucose</text>
<text x="172.6" y="262.1" font-size="5.9" font-weight="bold" text-anchor="middle" fill="#000">1 µM</text>
<text x="172.6" y="269.1" font-size="5.9" font-weight="bold" text-anchor="middle" fill="#000">Oligomycin</text>
<text x="222.3" y="262.1" font-size="5.9" font-weight="bold" text-anchor="middle" fill="#000">100 mM</text>
<text x="222.3" y="269.1" font-size="5.9" font-weight="bold" text-anchor="middle" fill="#000">2-DG</text>
<polyline points="81.9,376.68 98.8,377.95 115.7,375.41 132.6,320.98 149.5,331.95 166.4,334.06 183.3,300.72 200.2,302.83 217.1,304.1 234,376.68 250.9,384.7 267.8,383.43" fill="none" stroke="#98641f" stroke-width="1.2"/>
<line x1="81.9" y1="374.15" x2="81.9" y2="379.21" stroke="#98641f" stroke-width="0.9"/>
<line x1="80.3" y1="374.15" x2="83.5" y2="374.15" stroke="#98641f" stroke-width="0.9"/>
<line x1="80.3" y1="379.21" x2="83.5" y2="379.21" stroke="#98641f" stroke-width="0.9"/>
<polygon points="81.9,378.88 84.1,375.08 79.7,375.08" fill="#98641f"/>
<line x1="98.8" y1="376.26" x2="98.8" y2="379.63" stroke="#98641f" stroke-width="0.9"/>
<line x1="97.2" y1="376.26" x2="100.4" y2="376.26" stroke="#98641f" stroke-width="0.9"/>
<line x1="97.2" y1="379.63" x2="100.4" y2="379.63" stroke="#98641f" stroke-width="0.9"/>
<polygon points="98.8,380.15 101,376.35 96.6,376.35" fill="#98641f"/>
<line x1="115.7" y1="372.88" x2="115.7" y2="377.95" stroke="#98641f" stroke-width="0.9"/>
<line x1="114.1" y1="372.88" x2="117.3" y2="372.88" stroke="#98641f" stroke-width="0.9"/>
<line x1="114.1" y1="377.95" x2="117.3" y2="377.95" stroke="#98641f" stroke-width="0.9"/>
<polygon points="115.7,377.61 117.9,373.81 113.5,373.81" fill="#98641f"/>
<line x1="132.6" y1="319.29" x2="132.6" y2="322.66" stroke="#98641f" stroke-width="0.9"/>
<line x1="131" y1="319.29" x2="134.2" y2="319.29" stroke="#98641f" stroke-width="0.9"/>
<line x1="131" y1="322.66" x2="134.2" y2="322.66" stroke="#98641f" stroke-width="0.9"/>
<polygon points="132.6,323.18 134.8,319.38 130.4,319.38" fill="#98641f"/>
<line x1="149.5" y1="330.26" x2="149.5" y2="333.64" stroke="#98641f" stroke-width="0.9"/>
<line x1="147.9" y1="330.26" x2="151.1" y2="330.26" stroke="#98641f" stroke-width="0.9"/>
<line x1="147.9" y1="333.64" x2="151.1" y2="333.64" stroke="#98641f" stroke-width="0.9"/>
<polygon points="149.5,334.15 151.7,330.35 147.3,330.35" fill="#98641f"/>
<line x1="166.4" y1="332.37" x2="166.4" y2="335.75" stroke="#98641f" stroke-width="0.9"/>
<line x1="164.8" y1="332.37" x2="168" y2="332.37" stroke="#98641f" stroke-width="0.9"/>
<line x1="164.8" y1="335.75" x2="168" y2="335.75" stroke="#98641f" stroke-width="0.9"/>
<polygon points="166.4,336.26 168.6,332.46 164.2,332.46" fill="#98641f"/>
<line x1="183.3" y1="298.19" x2="183.3" y2="303.25" stroke="#98641f" stroke-width="0.9"/>
<line x1="181.7" y1="298.19" x2="184.9" y2="298.19" stroke="#98641f" stroke-width="0.9"/>
<line x1="181.7" y1="303.25" x2="184.9" y2="303.25" stroke="#98641f" stroke-width="0.9"/>
<polygon points="183.3,302.92 185.5,299.12 181.1,299.12" fill="#98641f"/>
<line x1="200.2" y1="300.3" x2="200.2" y2="305.36" stroke="#98641f" stroke-width="0.9"/>
<line x1="198.6" y1="300.3" x2="201.8" y2="300.3" stroke="#98641f" stroke-width="0.9"/>
<line x1="198.6" y1="305.36" x2="201.8" y2="305.36" stroke="#98641f" stroke-width="0.9"/>
<polygon points="200.2,305.03 202.4,301.23 198,301.23" fill="#98641f"/>
<line x1="217.1" y1="301.56" x2="217.1" y2="306.63" stroke="#98641f" stroke-width="0.9"/>
<line x1="215.5" y1="301.56" x2="218.7" y2="301.56" stroke="#98641f" stroke-width="0.9"/>
<line x1="215.5" y1="306.63" x2="218.7" y2="306.63" stroke="#98641f" stroke-width="0.9"/>
<polygon points="217.1,306.3 219.3,302.5 214.9,302.5" fill="#98641f"/>
<line x1="234" y1="374.15" x2="234" y2="379.21" stroke="#98641f" stroke-width="0.9"/>
<line x1="232.4" y1="374.15" x2="235.6" y2="374.15" stroke="#98641f" stroke-width="0.9"/>
<line x1="232.4" y1="379.21" x2="235.6" y2="379.21" stroke="#98641f" stroke-width="0.9"/>
<polygon points="234,378.88 236.2,375.08 231.8,375.08" fill="#98641f"/>
<line x1="250.9" y1="383.01" x2="250.9" y2="386.39" stroke="#98641f" stroke-width="0.9"/>
<line x1="249.3" y1="383.01" x2="252.5" y2="383.01" stroke="#98641f" stroke-width="0.9"/>
<line x1="249.3" y1="386.39" x2="252.5" y2="386.39" stroke="#98641f" stroke-width="0.9"/>
<polygon points="250.9,386.9 253.1,383.1 248.7,383.1" fill="#98641f"/>
<line x1="267.8" y1="381.74" x2="267.8" y2="385.12" stroke="#98641f" stroke-width="0.9"/>
<line x1="266.2" y1="381.74" x2="269.4" y2="381.74" stroke="#98641f" stroke-width="0.9"/>
<line x1="266.2" y1="385.12" x2="269.4" y2="385.12" stroke="#98641f" stroke-width="0.9"/>
<polygon points="267.8,385.63 270,381.83 265.6,381.83" fill="#98641f"/>
<polyline points="81.9,379.63 98.8,378.37 115.7,377.95 132.6,380.06 149.5,381.74 166.4,382.59 183.3,381.74 200.2,382.17 217.1,381.74 234,385.12 250.9,386.81 267.8,386.81" fill="none" stroke="#005a00" stroke-width="1.2"/>
<line x1="81.9" y1="377.1" x2="81.9" y2="382.17" stroke="#005a00" stroke-width="0.9"/>
<line x1="80.3" y1="377.1" x2="83.5" y2="377.1" stroke="#005a00" stroke-width="0.9"/>
<line x1="80.3" y1="382.17" x2="83.5" y2="382.17" stroke="#005a00" stroke-width="0.9"/>
<polygon points="81.9,377.43 84.1,381.23 79.7,381.23" fill="#005a00"/>
<line x1="98.8" y1="376.68" x2="98.8" y2="380.06" stroke="#005a00" stroke-width="0.9"/>
<line x1="97.2" y1="376.68" x2="100.4" y2="376.68" stroke="#005a00" stroke-width="0.9"/>
<line x1="97.2" y1="380.06" x2="100.4" y2="380.06" stroke="#005a00" stroke-width="0.9"/>
<polygon points="98.8,376.17 101,379.97 96.6,379.97" fill="#005a00"/>
<line x1="115.7" y1="376.26" x2="115.7" y2="379.63" stroke="#005a00" stroke-width="0.9"/>
<line x1="114.1" y1="376.26" x2="117.3" y2="376.26" stroke="#005a00" stroke-width="0.9"/>
<line x1="114.1" y1="379.63" x2="117.3" y2="379.63" stroke="#005a00" stroke-width="0.9"/>
<polygon points="115.7,375.75 117.9,379.55 113.5,379.55" fill="#005a00"/>
<line x1="132.6" y1="377.52" x2="132.6" y2="382.59" stroke="#005a00" stroke-width="0.9"/>
<line x1="131" y1="377.52" x2="134.2" y2="377.52" stroke="#005a00" stroke-width="0.9"/>
<line x1="131" y1="382.59" x2="134.2" y2="382.59" stroke="#005a00" stroke-width="0.9"/>
<polygon points="132.6,377.86 134.8,381.66 130.4,381.66" fill="#005a00"/>
<line x1="149.5" y1="379.21" x2="149.5" y2="384.28" stroke="#005a00" stroke-width="0.9"/>
<line x1="147.9" y1="379.21" x2="151.1" y2="379.21" stroke="#005a00" stroke-width="0.9"/>
<line x1="147.9" y1="384.28" x2="151.1" y2="384.28" stroke="#005a00" stroke-width="0.9"/>
<polygon points="149.5,379.54 151.7,383.34 147.3,383.34" fill="#005a00"/>
<line x1="166.4" y1="380.06" x2="166.4" y2="385.12" stroke="#005a00" stroke-width="0.9"/>
<line x1="164.8" y1="380.06" x2="168" y2="380.06" stroke="#005a00" stroke-width="0.9"/>
<line x1="164.8" y1="385.12" x2="168" y2="385.12" stroke="#005a00" stroke-width="0.9"/>
<polygon points="166.4,380.39 168.6,384.19 164.2,384.19" fill="#005a00"/>
<line x1="183.3" y1="379.21" x2="183.3" y2="384.28" stroke="#005a00" stroke-width="0.9"/>
<line x1="181.7" y1="379.21" x2="184.9" y2="379.21" stroke="#005a00" stroke-width="0.9"/>
<line x1="181.7" y1="384.28" x2="184.9" y2="384.28" stroke="#005a00" stroke-width="0.9"/>
<polygon points="183.3,379.54 185.5,383.34 181.1,383.34" fill="#005a00"/>
<line x1="200.2" y1="379.63" x2="200.2" y2="384.7" stroke="#005a00" stroke-width="0.9"/>
<line x1="198.6" y1="379.63" x2="201.8" y2="379.63" stroke="#005a00" stroke-width="0.9"/>
<line x1="198.6" y1="384.7" x2="201.8" y2="384.7" stroke="#005a00" stroke-width="0.9"/>
<polygon points="200.2,379.97 202.4,383.77 198,383.77" fill="#005a00"/>
<line x1="217.1" y1="379.21" x2="217.1" y2="384.28" stroke="#005a00" stroke-width="0.9"/>
<line x1="215.5" y1="379.21" x2="218.7" y2="379.21" stroke="#005a00" stroke-width="0.9"/>
<line x1="215.5" y1="384.28" x2="218.7" y2="384.28" stroke="#005a00" stroke-width="0.9"/>
<polygon points="217.1,379.54 219.3,383.34 214.9,383.34" fill="#005a00"/>
<line x1="234" y1="382.59" x2="234" y2="387.65" stroke="#005a00" stroke-width="0.9"/>
<line x1="232.4" y1="382.59" x2="235.6" y2="382.59" stroke="#005a00" stroke-width="0.9"/>
<line x1="232.4" y1="387.65" x2="235.6" y2="387.65" stroke="#005a00" stroke-width="0.9"/>
<polygon points="234,382.92 236.2,386.72 231.8,386.72" fill="#005a00"/>
<line x1="250.9" y1="385.12" x2="250.9" y2="388.5" stroke="#005a00" stroke-width="0.9"/>
<line x1="249.3" y1="385.12" x2="252.5" y2="385.12" stroke="#005a00" stroke-width="0.9"/>
<line x1="249.3" y1="388.5" x2="252.5" y2="388.5" stroke="#005a00" stroke-width="0.9"/>
<polygon points="250.9,384.61 253.1,388.41 248.7,388.41" fill="#005a00"/>
<line x1="267.8" y1="385.12" x2="267.8" y2="388.5" stroke="#005a00" stroke-width="0.9"/>
<line x1="266.2" y1="385.12" x2="269.4" y2="385.12" stroke="#005a00" stroke-width="0.9"/>
<line x1="266.2" y1="388.5" x2="269.4" y2="388.5" stroke="#005a00" stroke-width="0.9"/>
<polygon points="267.8,384.61 270,388.41 265.6,388.41" fill="#005a00"/>
<polyline points="81.9,375.41 98.8,378.37 115.7,379.21 132.6,321.82 149.5,339.97 166.4,343.76 183.3,302.41 200.2,315.91 217.1,319.29 234,370.77 250.9,383.85 267.8,386.81" fill="none" stroke="#9c0000" stroke-width="1.2"/>
<line x1="81.9" y1="372.46" x2="81.9" y2="378.37" stroke="#9c0000" stroke-width="0.9"/>
<line x1="80.3" y1="372.46" x2="83.5" y2="372.46" stroke="#9c0000" stroke-width="0.9"/>
<line x1="80.3" y1="378.37" x2="83.5" y2="378.37" stroke="#9c0000" stroke-width="0.9"/>
<rect x="80" y="373.51" width="3.8" height="3.8" fill="#9c0000"/>
<line x1="98.8" y1="375.84" x2="98.8" y2="380.9" stroke="#9c0000" stroke-width="0.9"/>
<line x1="97.2" y1="375.84" x2="100.4" y2="375.84" stroke="#9c0000" stroke-width="0.9"/>
<line x1="97.2" y1="380.9" x2="100.4" y2="380.9" stroke="#9c0000" stroke-width="0.9"/>
<rect x="96.9" y="376.47" width="3.8" height="3.8" fill="#9c0000"/>
<line x1="115.7" y1="376.68" x2="115.7" y2="381.74" stroke="#9c0000" stroke-width="0.9"/>
<line x1="114.1" y1="376.68" x2="117.3" y2="376.68" stroke="#9c0000" stroke-width="0.9"/>
<line x1="114.1" y1="381.74" x2="117.3" y2="381.74" stroke="#9c0000" stroke-width="0.9"/>
<rect x="113.8" y="377.31" width="3.8" height="3.8" fill="#9c0000"/>
<line x1="132.6" y1="319.29" x2="132.6" y2="324.35" stroke="#9c0000" stroke-width="0.9"/>
<line x1="131" y1="319.29" x2="134.2" y2="319.29" stroke="#9c0000" stroke-width="0.9"/>
<line x1="131" y1="324.35" x2="134.2" y2="324.35" stroke="#9c0000" stroke-width="0.9"/>
<rect x="130.7" y="319.92" width="3.8" height="3.8" fill="#9c0000"/>
<line x1="149.5" y1="337.01" x2="149.5" y2="342.92" stroke="#9c0000" stroke-width="0.9"/>
<line x1="147.9" y1="337.01" x2="151.1" y2="337.01" stroke="#9c0000" stroke-width="0.9"/>
<line x1="147.9" y1="342.92" x2="151.1" y2="342.92" stroke="#9c0000" stroke-width="0.9"/>
<rect x="147.6" y="338.07" width="3.8" height="3.8" fill="#9c0000"/>
<line x1="166.4" y1="340.39" x2="166.4" y2="347.14" stroke="#9c0000" stroke-width="0.9"/>
<line x1="164.8" y1="340.39" x2="168" y2="340.39" stroke="#9c0000" stroke-width="0.9"/>
<line x1="164.8" y1="347.14" x2="168" y2="347.14" stroke="#9c0000" stroke-width="0.9"/>
<rect x="164.5" y="341.86" width="3.8" height="3.8" fill="#9c0000"/>
<line x1="183.3" y1="299.03" x2="183.3" y2="305.78" stroke="#9c0000" stroke-width="0.9"/>
<line x1="181.7" y1="299.03" x2="184.9" y2="299.03" stroke="#9c0000" stroke-width="0.9"/>
<line x1="181.7" y1="305.78" x2="184.9" y2="305.78" stroke="#9c0000" stroke-width="0.9"/>
<rect x="181.4" y="300.51" width="3.8" height="3.8" fill="#9c0000"/>
<line x1="200.2" y1="312.11" x2="200.2" y2="319.71" stroke="#9c0000" stroke-width="0.9"/>
<line x1="198.6" y1="312.11" x2="201.8" y2="312.11" stroke="#9c0000" stroke-width="0.9"/>
<line x1="198.6" y1="319.71" x2="201.8" y2="319.71" stroke="#9c0000" stroke-width="0.9"/>
<rect x="198.3" y="314.01" width="3.8" height="3.8" fill="#9c0000"/>
<line x1="217.1" y1="315.49" x2="217.1" y2="323.09" stroke="#9c0000" stroke-width="0.9"/>
<line x1="215.5" y1="315.49" x2="218.7" y2="315.49" stroke="#9c0000" stroke-width="0.9"/>
<line x1="215.5" y1="323.09" x2="218.7" y2="323.09" stroke="#9c0000" stroke-width="0.9"/>
<rect x="215.2" y="317.39" width="3.8" height="3.8" fill="#9c0000"/>
<line x1="234" y1="368.24" x2="234" y2="373.3" stroke="#9c0000" stroke-width="0.9"/>
<line x1="232.4" y1="368.24" x2="235.6" y2="368.24" stroke="#9c0000" stroke-width="0.9"/>
<line x1="232.4" y1="373.3" x2="235.6" y2="373.3" stroke="#9c0000" stroke-width="0.9"/>
<rect x="232.1" y="368.87" width="3.8" height="3.8" fill="#9c0000"/>
<line x1="250.9" y1="382.17" x2="250.9" y2="385.54" stroke="#9c0000" stroke-width="0.9"/>
<line x1="249.3" y1="382.17" x2="252.5" y2="382.17" stroke="#9c0000" stroke-width="0.9"/>
<line x1="249.3" y1="385.54" x2="252.5" y2="385.54" stroke="#9c0000" stroke-width="0.9"/>
<rect x="249" y="381.95" width="3.8" height="3.8" fill="#9c0000"/>
<line x1="267.8" y1="385.12" x2="267.8" y2="388.5" stroke="#9c0000" stroke-width="0.9"/>
<line x1="266.2" y1="385.12" x2="269.4" y2="385.12" stroke="#9c0000" stroke-width="0.9"/>
<line x1="266.2" y1="388.5" x2="269.4" y2="388.5" stroke="#9c0000" stroke-width="0.9"/>
<rect x="265.9" y="384.91" width="3.8" height="3.8" fill="#9c0000"/>
<polyline points="81.9,377.95 98.8,377.1 115.7,376.68 132.6,319.71 149.5,335.32 166.4,339.12 183.3,293.55 200.2,304.1 217.1,307.47 234,372.88 250.9,380.9 267.8,385.12" fill="none" stroke="#00007e" stroke-width="1.2"/>
<line x1="81.9" y1="376.26" x2="81.9" y2="379.63" stroke="#00007e" stroke-width="0.9"/>
<line x1="80.3" y1="376.26" x2="83.5" y2="376.26" stroke="#00007e" stroke-width="0.9"/>
<line x1="80.3" y1="379.63" x2="83.5" y2="379.63" stroke="#00007e" stroke-width="0.9"/>
<circle cx="81.9" cy="377.95" r="2" fill="#00007e"/>
<line x1="98.8" y1="375.41" x2="98.8" y2="378.79" stroke="#00007e" stroke-width="0.9"/>
<line x1="97.2" y1="375.41" x2="100.4" y2="375.41" stroke="#00007e" stroke-width="0.9"/>
<line x1="97.2" y1="378.79" x2="100.4" y2="378.79" stroke="#00007e" stroke-width="0.9"/>
<circle cx="98.8" cy="377.1" r="2" fill="#00007e"/>
<line x1="115.7" y1="374.99" x2="115.7" y2="378.37" stroke="#00007e" stroke-width="0.9"/>
<line x1="114.1" y1="374.99" x2="117.3" y2="374.99" stroke="#00007e" stroke-width="0.9"/>
<line x1="114.1" y1="378.37" x2="117.3" y2="378.37" stroke="#00007e" stroke-width="0.9"/>
<circle cx="115.7" cy="376.68" r="2" fill="#00007e"/>
<line x1="132.6" y1="318.02" x2="132.6" y2="321.4" stroke="#00007e" stroke-width="0.9"/>
<line x1="131" y1="318.02" x2="134.2" y2="318.02" stroke="#00007e" stroke-width="0.9"/>
<line x1="131" y1="321.4" x2="134.2" y2="321.4" stroke="#00007e" stroke-width="0.9"/>
<circle cx="132.6" cy="319.71" r="2" fill="#00007e"/>
<line x1="149.5" y1="333.64" x2="149.5" y2="337.01" stroke="#00007e" stroke-width="0.9"/>
<line x1="147.9" y1="333.64" x2="151.1" y2="333.64" stroke="#00007e" stroke-width="0.9"/>
<line x1="147.9" y1="337.01" x2="151.1" y2="337.01" stroke="#00007e" stroke-width="0.9"/>
<circle cx="149.5" cy="335.32" r="2" fill="#00007e"/>
<line x1="166.4" y1="337.43" x2="166.4" y2="340.81" stroke="#00007e" stroke-width="0.9"/>
<line x1="164.8" y1="337.43" x2="168" y2="337.43" stroke="#00007e" stroke-width="0.9"/>
<line x1="164.8" y1="340.81" x2="168" y2="340.81" stroke="#00007e" stroke-width="0.9"/>
<circle cx="166.4" cy="339.12" r="2" fill="#00007e"/>
<line x1="183.3" y1="291.86" x2="183.3" y2="295.23" stroke="#00007e" stroke-width="0.9"/>
<line x1="181.7" y1="291.86" x2="184.9" y2="291.86" stroke="#00007e" stroke-width="0.9"/>
<line x1="181.7" y1="295.23" x2="184.9" y2="295.23" stroke="#00007e" stroke-width="0.9"/>
<circle cx="183.3" cy="293.55" r="2" fill="#00007e"/>
<line x1="200.2" y1="302.41" x2="200.2" y2="305.78" stroke="#00007e" stroke-width="0.9"/>
<line x1="198.6" y1="302.41" x2="201.8" y2="302.41" stroke="#00007e" stroke-width="0.9"/>
<line x1="198.6" y1="305.78" x2="201.8" y2="305.78" stroke="#00007e" stroke-width="0.9"/>
<circle cx="200.2" cy="304.1" r="2" fill="#00007e"/>
<line x1="217.1" y1="304.94" x2="217.1" y2="310" stroke="#00007e" stroke-width="0.9"/>
<line x1="215.5" y1="304.94" x2="218.7" y2="304.94" stroke="#00007e" stroke-width="0.9"/>
<line x1="215.5" y1="310" x2="218.7" y2="310" stroke="#00007e" stroke-width="0.9"/>
<circle cx="217.1" cy="307.47" r="2" fill="#00007e"/>
<line x1="234" y1="370.35" x2="234" y2="375.41" stroke="#00007e" stroke-width="0.9"/>
<line x1="232.4" y1="370.35" x2="235.6" y2="370.35" stroke="#00007e" stroke-width="0.9"/>
<line x1="232.4" y1="375.41" x2="235.6" y2="375.41" stroke="#00007e" stroke-width="0.9"/>
<circle cx="234" cy="372.88" r="2" fill="#00007e"/>
<line x1="250.9" y1="379.21" x2="250.9" y2="382.59" stroke="#00007e" stroke-width="0.9"/>
<line x1="249.3" y1="379.21" x2="252.5" y2="379.21" stroke="#00007e" stroke-width="0.9"/>
<line x1="249.3" y1="382.59" x2="252.5" y2="382.59" stroke="#00007e" stroke-width="0.9"/>
<circle cx="250.9" cy="380.9" r="2" fill="#00007e"/>
<line x1="267.8" y1="383.43" x2="267.8" y2="386.81" stroke="#00007e" stroke-width="0.9"/>
<line x1="266.2" y1="383.43" x2="269.4" y2="383.43" stroke="#00007e" stroke-width="0.9"/>
<line x1="266.2" y1="386.81" x2="269.4" y2="386.81" stroke="#00007e" stroke-width="0.9"/>
<circle cx="267.8" cy="385.12" r="2" fill="#00007e"/>
<text x="132.6" y="377.2" font-size="11" text-anchor="middle" fill="#000">*</text>
<text x="149.5" y="381.7" font-size="11" text-anchor="middle" fill="#000">*</text>
<text x="166.4" y="381.7" font-size="11" text-anchor="middle" fill="#000">*</text>
<text x="183.3" y="380" font-size="11" text-anchor="middle" fill="#000">*</text>
<text x="200.2" y="381.5" font-size="11" text-anchor="middle" fill="#000">*</text>
<text x="217.1" y="381.5" font-size="11" text-anchor="middle" fill="#000">*</text>
<text x="183.3" y="292.2" font-size="11" text-anchor="middle" fill="#000">*</text>
<text x="200.2" y="298.8" font-size="11" text-anchor="middle" fill="#000">*</text>
<text x="217.1" y="300" font-size="11" text-anchor="middle" fill="#000">*</text>
<line x1="233.2" y1="279.8" x2="242.9" y2="279.8" stroke="#00007e" stroke-width="1.2"/>
<circle cx="238.05" cy="279.8" r="2.1" fill="#00007e"/>
<text x="248.3" y="282.3" font-size="7.1" fill="#000">Vector</text>
<line x1="233.2" y1="288.3" x2="242.9" y2="288.3" stroke="#9c0000" stroke-width="1.2"/>
<rect x="236.05" y="286.3" width="4" height="4" fill="#9c0000"/>
<text x="248.3" y="290.8" font-size="7.1" fill="#000">KDM6A<tspan font-size="5.11" dy="-3.2">WT</tspan></text>
<line x1="233.2" y1="297.5" x2="242.9" y2="297.5" stroke="#005a00" stroke-width="1.2"/>
<polygon points="238.05,295.2 240.35,299.2 235.75,299.2" fill="#005a00"/>
<text x="248.3" y="300" font-size="7.1" fill="#000">KDM6A<tspan font-size="5.11" dy="-3.2">S829A</tspan></text>
<line x1="233.2" y1="307.6" x2="242.9" y2="307.6" stroke="#98641f" stroke-width="1.2"/>
<polygon points="238.05,309.9 240.35,305.9 235.75,305.9" fill="#98641f"/>
<text x="248.3" y="310.1" font-size="7.1" fill="#000">KDM6A<tspan font-size="5.11" dy="-3.2">S829D</tspan></text>
<text x="46.5" y="250" font-size="11.8" fill="#000">HN6</text>
<text x="0" y="0" font-size="10.4" font-weight="bold" text-anchor="middle" fill="#000" transform="translate(41.4,332.4) rotate(-90)">ECAR</text>
<text x="0" y="0" font-size="10.9" font-weight="bold" text-anchor="middle" fill="#000" transform="translate(55.6,331.3) rotate(-90)">(pmol/min per µg protein)</text>
<line x1="80.6" y1="460.9" x2="80.6" y2="594" stroke="#222" stroke-width="1.3"/>
<line x1="80" y1="593.4" x2="286.1" y2="593.4" stroke="#222" stroke-width="1.3"/>
<line x1="78" y1="593.4" x2="80.6" y2="593.4" stroke="#000" stroke-width="1.2"/>
<text x="77" y="597.3" font-size="11" font-weight="bold" text-anchor="end" fill="#000">0</text>
<line x1="78" y1="560.3" x2="80.6" y2="560.3" stroke="#000" stroke-width="1.2"/>
<text x="77" y="564.2" font-size="11" font-weight="bold" text-anchor="end" fill="#000">5</text>
<line x1="78" y1="527.2" x2="80.6" y2="527.2" stroke="#000" stroke-width="1.2"/>
<text x="77" y="531.1" font-size="11" font-weight="bold" text-anchor="end" fill="#000">10</text>
<line x1="78" y1="494.1" x2="80.6" y2="494.1" stroke="#000" stroke-width="1.2"/>
<text x="77" y="498" font-size="11" font-weight="bold" text-anchor="end" fill="#000">15</text>
<line x1="78" y1="461" x2="80.6" y2="461" stroke="#000" stroke-width="1.2"/>
<text x="77" y="464.9" font-size="11" font-weight="bold" text-anchor="end" fill="#000">20</text>
<line x1="80.9" y1="593.4" x2="80.9" y2="596" stroke="#000" stroke-width="1.2"/>
<text x="80.9" y="606.9" font-size="10.8" font-weight="bold" text-anchor="middle" fill="#000">0</text>
<line x1="132.2" y1="593.4" x2="132.2" y2="596" stroke="#000" stroke-width="1.2"/>
<text x="132.2" y="606.9" font-size="10.8" font-weight="bold" text-anchor="middle" fill="#000">20</text>
<line x1="183.5" y1="593.4" x2="183.5" y2="596" stroke="#000" stroke-width="1.2"/>
<text x="183.5" y="606.9" font-size="10.8" font-weight="bold" text-anchor="middle" fill="#000">40</text>
<line x1="234.8" y1="593.4" x2="234.8" y2="596" stroke="#000" stroke-width="1.2"/>
<text x="234.8" y="606.9" font-size="10.8" font-weight="bold" text-anchor="middle" fill="#000">60</text>
<line x1="286.1" y1="593.4" x2="286.1" y2="596" stroke="#000" stroke-width="1.2"/>
<text x="286.1" y="606.9" font-size="10.8" font-weight="bold" text-anchor="middle" fill="#000">80</text>
<text x="183" y="620" font-size="8.6" font-weight="bold" text-anchor="middle" fill="#000">Time(min)</text>
<line x1="126.1" y1="465.5" x2="126.1" y2="590.5" stroke="#000" stroke-width="1.8" stroke-dasharray="1.9 3.45"/>
<line x1="176" y1="465.5" x2="176" y2="590.5" stroke="#000" stroke-width="1.8" stroke-dasharray="1.9 3.45"/>
<line x1="226.6" y1="465.5" x2="226.6" y2="590.5" stroke="#000" stroke-width="1.8" stroke-dasharray="1.9 3.45"/>
<text x="126.7" y="446.3" font-size="5.9" font-weight="bold" text-anchor="middle" fill="#000">10 mM</text>
<text x="126.7" y="454.1" font-size="5.9" font-weight="bold" text-anchor="middle" fill="#000">Glucose</text>
<text x="176.4" y="446.3" font-size="5.9" font-weight="bold" text-anchor="middle" fill="#000">1 µM</text>
<text x="176.4" y="454.1" font-size="5.9" font-weight="bold" text-anchor="middle" fill="#000">Oligomycin</text>
<text x="224.8" y="446.3" font-size="5.9" font-weight="bold" text-anchor="middle" fill="#000">100 mM</text>
<text x="224.8" y="454.1" font-size="5.9" font-weight="bold" text-anchor="middle" fill="#000">2-DG</text>
<polyline points="84.51,566.92 101.02,566.26 117.53,565.6 134.04,512.64 150.55,521.24 167.06,523.89 183.57,475.23 200.08,486.49 216.59,489.47 233.1,547.06 249.61,563.61 266.12,568.91" fill="none" stroke="#98641f" stroke-width="1.2"/>
<line x1="84.51" y1="563.61" x2="84.51" y2="570.23" stroke="#98641f" stroke-width="0.9"/>
<line x1="82.91" y1="563.61" x2="86.11" y2="563.61" stroke="#98641f" stroke-width="0.9"/>
<line x1="82.91" y1="570.23" x2="86.11" y2="570.23" stroke="#98641f" stroke-width="0.9"/>
<circle cx="84.51" cy="566.92" r="2" fill="#98641f"/>
<line x1="101.02" y1="563.61" x2="101.02" y2="568.91" stroke="#98641f" stroke-width="0.9"/>
<line x1="99.42" y1="563.61" x2="102.62" y2="563.61" stroke="#98641f" stroke-width="0.9"/>
<line x1="99.42" y1="568.91" x2="102.62" y2="568.91" stroke="#98641f" stroke-width="0.9"/>
<circle cx="101.02" cy="566.26" r="2" fill="#98641f"/>
<line x1="117.53" y1="562.95" x2="117.53" y2="568.24" stroke="#98641f" stroke-width="0.9"/>
<line x1="115.93" y1="562.95" x2="119.13" y2="562.95" stroke="#98641f" stroke-width="0.9"/>
<line x1="115.93" y1="568.24" x2="119.13" y2="568.24" stroke="#98641f" stroke-width="0.9"/>
<circle cx="117.53" cy="565.6" r="2" fill="#98641f"/>
<line x1="134.04" y1="509.33" x2="134.04" y2="515.95" stroke="#98641f" stroke-width="0.9"/>
<line x1="132.44" y1="509.33" x2="135.64" y2="509.33" stroke="#98641f" stroke-width="0.9"/>
<line x1="132.44" y1="515.95" x2="135.64" y2="515.95" stroke="#98641f" stroke-width="0.9"/>
<circle cx="134.04" cy="512.64" r="2" fill="#98641f"/>
<line x1="150.55" y1="517.93" x2="150.55" y2="524.55" stroke="#98641f" stroke-width="0.9"/>
<line x1="148.95" y1="517.93" x2="152.15" y2="517.93" stroke="#98641f" stroke-width="0.9"/>
<line x1="148.95" y1="524.55" x2="152.15" y2="524.55" stroke="#98641f" stroke-width="0.9"/>
<circle cx="150.55" cy="521.24" r="2" fill="#98641f"/>
<line x1="167.06" y1="520.58" x2="167.06" y2="527.2" stroke="#98641f" stroke-width="0.9"/>
<line x1="165.46" y1="520.58" x2="168.66" y2="520.58" stroke="#98641f" stroke-width="0.9"/>
<line x1="165.46" y1="527.2" x2="168.66" y2="527.2" stroke="#98641f" stroke-width="0.9"/>
<circle cx="167.06" cy="523.89" r="2" fill="#98641f"/>
<line x1="183.57" y1="466.63" x2="183.57" y2="483.84" stroke="#98641f" stroke-width="0.9"/>
<line x1="181.97" y1="466.63" x2="185.17" y2="466.63" stroke="#98641f" stroke-width="0.9"/>
<line x1="181.97" y1="483.84" x2="185.17" y2="483.84" stroke="#98641f" stroke-width="0.9"/>
<circle cx="183.57" cy="475.23" r="2" fill="#98641f"/>
<line x1="200.08" y1="479.2" x2="200.08" y2="493.77" stroke="#98641f" stroke-width="0.9"/>
<line x1="198.48" y1="479.2" x2="201.68" y2="479.2" stroke="#98641f" stroke-width="0.9"/>
<line x1="198.48" y1="493.77" x2="201.68" y2="493.77" stroke="#98641f" stroke-width="0.9"/>
<circle cx="200.08" cy="486.49" r="2" fill="#98641f"/>
<line x1="216.59" y1="483.51" x2="216.59" y2="495.42" stroke="#98641f" stroke-width="0.9"/>
<line x1="214.99" y1="483.51" x2="218.19" y2="483.51" stroke="#98641f" stroke-width="0.9"/>
<line x1="214.99" y1="495.42" x2="218.19" y2="495.42" stroke="#98641f" stroke-width="0.9"/>
<circle cx="216.59" cy="489.47" r="2" fill="#98641f"/>
<line x1="233.1" y1="545.07" x2="233.1" y2="549.05" stroke="#98641f" stroke-width="0.9"/>
<line x1="231.5" y1="545.07" x2="234.7" y2="545.07" stroke="#98641f" stroke-width="0.9"/>
<line x1="231.5" y1="549.05" x2="234.7" y2="549.05" stroke="#98641f" stroke-width="0.9"/>
<circle cx="233.1" cy="547.06" r="2" fill="#98641f"/>
<line x1="249.61" y1="561.62" x2="249.61" y2="565.6" stroke="#98641f" stroke-width="0.9"/>
<line x1="248.01" y1="561.62" x2="251.21" y2="561.62" stroke="#98641f" stroke-width="0.9"/>
<line x1="248.01" y1="565.6" x2="251.21" y2="565.6" stroke="#98641f" stroke-width="0.9"/>
<circle cx="249.61" cy="563.61" r="2" fill="#98641f"/>
<line x1="266.12" y1="566.92" x2="266.12" y2="570.89" stroke="#98641f" stroke-width="0.9"/>
<line x1="264.52" y1="566.92" x2="267.72" y2="566.92" stroke="#98641f" stroke-width="0.9"/>
<line x1="264.52" y1="570.89" x2="267.72" y2="570.89" stroke="#98641f" stroke-width="0.9"/>
<circle cx="266.12" cy="568.91" r="2" fill="#98641f"/>
<polyline points="84.51,563.61 101.02,563.61 117.53,562.29 134.04,563.61 150.55,566.92 167.06,568.24 183.57,564.27 200.08,567.25 216.59,567.91 233.1,572.55 249.61,576.52 266.12,579.83" fill="none" stroke="#005a00" stroke-width="1.2"/>
<line x1="84.51" y1="561.62" x2="84.51" y2="565.6" stroke="#005a00" stroke-width="0.9"/>
<line x1="82.91" y1="561.62" x2="86.11" y2="561.62" stroke="#005a00" stroke-width="0.9"/>
<line x1="82.91" y1="565.6" x2="86.11" y2="565.6" stroke="#005a00" stroke-width="0.9"/>
<circle cx="84.51" cy="563.61" r="2" fill="#005a00"/>
<line x1="101.02" y1="561.62" x2="101.02" y2="565.6" stroke="#005a00" stroke-width="0.9"/>
<line x1="99.42" y1="561.62" x2="102.62" y2="561.62" stroke="#005a00" stroke-width="0.9"/>
<line x1="99.42" y1="565.6" x2="102.62" y2="565.6" stroke="#005a00" stroke-width="0.9"/>
<circle cx="101.02" cy="563.61" r="2" fill="#005a00"/>
<line x1="117.53" y1="560.3" x2="117.53" y2="564.27" stroke="#005a00" stroke-width="0.9"/>
<line x1="115.93" y1="560.3" x2="119.13" y2="560.3" stroke="#005a00" stroke-width="0.9"/>
<line x1="115.93" y1="564.27" x2="119.13" y2="564.27" stroke="#005a00" stroke-width="0.9"/>
<circle cx="117.53" cy="562.29" r="2" fill="#005a00"/>
<line x1="134.04" y1="561.29" x2="134.04" y2="565.93" stroke="#005a00" stroke-width="0.9"/>
<line x1="132.44" y1="561.29" x2="135.64" y2="561.29" stroke="#005a00" stroke-width="0.9"/>
<line x1="132.44" y1="565.93" x2="135.64" y2="565.93" stroke="#005a00" stroke-width="0.9"/>
<circle cx="134.04" cy="563.61" r="2" fill="#005a00"/>
<line x1="150.55" y1="564.6" x2="150.55" y2="569.24" stroke="#005a00" stroke-width="0.9"/>
<line x1="148.95" y1="564.6" x2="152.15" y2="564.6" stroke="#005a00" stroke-width="0.9"/>
<line x1="148.95" y1="569.24" x2="152.15" y2="569.24" stroke="#005a00" stroke-width="0.9"/>
<circle cx="150.55" cy="566.92" r="2" fill="#005a00"/>
<line x1="167.06" y1="565.6" x2="167.06" y2="570.89" stroke="#005a00" stroke-width="0.9"/>
<line x1="165.46" y1="565.6" x2="168.66" y2="565.6" stroke="#005a00" stroke-width="0.9"/>
<line x1="165.46" y1="570.89" x2="168.66" y2="570.89" stroke="#005a00" stroke-width="0.9"/>
<circle cx="167.06" cy="568.24" r="2" fill="#005a00"/>
<line x1="183.57" y1="561.95" x2="183.57" y2="566.59" stroke="#005a00" stroke-width="0.9"/>
<line x1="181.97" y1="561.95" x2="185.17" y2="561.95" stroke="#005a00" stroke-width="0.9"/>
<line x1="181.97" y1="566.59" x2="185.17" y2="566.59" stroke="#005a00" stroke-width="0.9"/>
<circle cx="183.57" cy="564.27" r="2" fill="#005a00"/>
<line x1="200.08" y1="564.93" x2="200.08" y2="569.57" stroke="#005a00" stroke-width="0.9"/>
<line x1="198.48" y1="564.93" x2="201.68" y2="564.93" stroke="#005a00" stroke-width="0.9"/>
<line x1="198.48" y1="569.57" x2="201.68" y2="569.57" stroke="#005a00" stroke-width="0.9"/>
<circle cx="200.08" cy="567.25" r="2" fill="#005a00"/>
<line x1="216.59" y1="565.93" x2="216.59" y2="569.9" stroke="#005a00" stroke-width="0.9"/>
<line x1="214.99" y1="565.93" x2="218.19" y2="565.93" stroke="#005a00" stroke-width="0.9"/>
<line x1="214.99" y1="569.9" x2="218.19" y2="569.9" stroke="#005a00" stroke-width="0.9"/>
<circle cx="216.59" cy="567.91" r="2" fill="#005a00"/>
<line x1="233.1" y1="571.22" x2="233.1" y2="573.87" stroke="#005a00" stroke-width="0.9"/>
<line x1="231.5" y1="571.22" x2="234.7" y2="571.22" stroke="#005a00" stroke-width="0.9"/>
<line x1="231.5" y1="573.87" x2="234.7" y2="573.87" stroke="#005a00" stroke-width="0.9"/>
<circle cx="233.1" cy="572.55" r="2" fill="#005a00"/>
<line x1="249.61" y1="575.53" x2="249.61" y2="577.51" stroke="#005a00" stroke-width="0.9"/>
<line x1="248.01" y1="575.53" x2="251.21" y2="575.53" stroke="#005a00" stroke-width="0.9"/>
<line x1="248.01" y1="577.51" x2="251.21" y2="577.51" stroke="#005a00" stroke-width="0.9"/>
<circle cx="249.61" cy="576.52" r="2" fill="#005a00"/>
<line x1="266.12" y1="578.84" x2="266.12" y2="580.82" stroke="#005a00" stroke-width="0.9"/>
<line x1="264.52" y1="578.84" x2="267.72" y2="578.84" stroke="#005a00" stroke-width="0.9"/>
<line x1="264.52" y1="580.82" x2="267.72" y2="580.82" stroke="#005a00" stroke-width="0.9"/>
<circle cx="266.12" cy="579.83" r="2" fill="#005a00"/>
<polyline points="84.51,564.27 101.02,564.27 117.53,564.6 134.04,500.72 150.55,514.95 167.06,516.61 183.57,463.65 200.08,476.56 216.59,480.2 233.1,545.07 249.61,562.95 266.12,567.91" fill="none" stroke="#9c0000" stroke-width="1.2"/>
<line x1="84.51" y1="561.62" x2="84.51" y2="566.92" stroke="#9c0000" stroke-width="0.9"/>
<line x1="82.91" y1="561.62" x2="86.11" y2="561.62" stroke="#9c0000" stroke-width="0.9"/>
<line x1="82.91" y1="566.92" x2="86.11" y2="566.92" stroke="#9c0000" stroke-width="0.9"/>
<circle cx="84.51" cy="564.27" r="2" fill="#9c0000"/>
<line x1="101.02" y1="562.29" x2="101.02" y2="566.26" stroke="#9c0000" stroke-width="0.9"/>
<line x1="99.42" y1="562.29" x2="102.62" y2="562.29" stroke="#9c0000" stroke-width="0.9"/>
<line x1="99.42" y1="566.26" x2="102.62" y2="566.26" stroke="#9c0000" stroke-width="0.9"/>
<circle cx="101.02" cy="564.27" r="2" fill="#9c0000"/>
<line x1="117.53" y1="562.62" x2="117.53" y2="566.59" stroke="#9c0000" stroke-width="0.9"/>
<line x1="115.93" y1="562.62" x2="119.13" y2="562.62" stroke="#9c0000" stroke-width="0.9"/>
<line x1="115.93" y1="566.59" x2="119.13" y2="566.59" stroke="#9c0000" stroke-width="0.9"/>
<circle cx="117.53" cy="564.6" r="2" fill="#9c0000"/>
<line x1="134.04" y1="497.41" x2="134.04" y2="504.03" stroke="#9c0000" stroke-width="0.9"/>
<line x1="132.44" y1="497.41" x2="135.64" y2="497.41" stroke="#9c0000" stroke-width="0.9"/>
<line x1="132.44" y1="504.03" x2="135.64" y2="504.03" stroke="#9c0000" stroke-width="0.9"/>
<circle cx="134.04" cy="500.72" r="2" fill="#9c0000"/>
<line x1="150.55" y1="512.97" x2="150.55" y2="516.94" stroke="#9c0000" stroke-width="0.9"/>
<line x1="148.95" y1="512.97" x2="152.15" y2="512.97" stroke="#9c0000" stroke-width="0.9"/>
<line x1="148.95" y1="516.94" x2="152.15" y2="516.94" stroke="#9c0000" stroke-width="0.9"/>
<circle cx="150.55" cy="514.95" r="2" fill="#9c0000"/>
<line x1="167.06" y1="514.62" x2="167.06" y2="518.59" stroke="#9c0000" stroke-width="0.9"/>
<line x1="165.46" y1="514.62" x2="168.66" y2="514.62" stroke="#9c0000" stroke-width="0.9"/>
<line x1="165.46" y1="518.59" x2="168.66" y2="518.59" stroke="#9c0000" stroke-width="0.9"/>
<circle cx="167.06" cy="516.61" r="2" fill="#9c0000"/>
<line x1="183.57" y1="460.34" x2="183.57" y2="466.96" stroke="#9c0000" stroke-width="0.9"/>
<line x1="181.97" y1="460.34" x2="185.17" y2="460.34" stroke="#9c0000" stroke-width="0.9"/>
<line x1="181.97" y1="466.96" x2="185.17" y2="466.96" stroke="#9c0000" stroke-width="0.9"/>
<circle cx="183.57" cy="463.65" r="2" fill="#9c0000"/>
<line x1="200.08" y1="472.59" x2="200.08" y2="480.53" stroke="#9c0000" stroke-width="0.9"/>
<line x1="198.48" y1="472.59" x2="201.68" y2="472.59" stroke="#9c0000" stroke-width="0.9"/>
<line x1="198.48" y1="480.53" x2="201.68" y2="480.53" stroke="#9c0000" stroke-width="0.9"/>
<circle cx="200.08" cy="476.56" r="2" fill="#9c0000"/>
<line x1="216.59" y1="476.23" x2="216.59" y2="484.17" stroke="#9c0000" stroke-width="0.9"/>
<line x1="214.99" y1="476.23" x2="218.19" y2="476.23" stroke="#9c0000" stroke-width="0.9"/>
<line x1="214.99" y1="484.17" x2="218.19" y2="484.17" stroke="#9c0000" stroke-width="0.9"/>
<circle cx="216.59" cy="480.2" r="2" fill="#9c0000"/>
<line x1="233.1" y1="543.09" x2="233.1" y2="547.06" stroke="#9c0000" stroke-width="0.9"/>
<line x1="231.5" y1="543.09" x2="234.7" y2="543.09" stroke="#9c0000" stroke-width="0.9"/>
<line x1="231.5" y1="547.06" x2="234.7" y2="547.06" stroke="#9c0000" stroke-width="0.9"/>
<circle cx="233.1" cy="545.07" r="2" fill="#9c0000"/>
<line x1="249.61" y1="561.62" x2="249.61" y2="564.27" stroke="#9c0000" stroke-width="0.9"/>
<line x1="248.01" y1="561.62" x2="251.21" y2="561.62" stroke="#9c0000" stroke-width="0.9"/>
<line x1="248.01" y1="564.27" x2="251.21" y2="564.27" stroke="#9c0000" stroke-width="0.9"/>
<circle cx="249.61" cy="562.95" r="2" fill="#9c0000"/>
<line x1="266.12" y1="566.59" x2="266.12" y2="569.24" stroke="#9c0000" stroke-width="0.9"/>
<line x1="264.52" y1="566.59" x2="267.72" y2="566.59" stroke="#9c0000" stroke-width="0.9"/>
<line x1="264.52" y1="569.24" x2="267.72" y2="569.24" stroke="#9c0000" stroke-width="0.9"/>
<circle cx="266.12" cy="567.91" r="2" fill="#9c0000"/>
<polyline points="84.51,558.98 101.02,561.29 117.53,561.95 134.04,506.68 150.55,522.57 167.06,525.88 183.57,472.92 200.08,486.82 216.59,490.13 233.1,553.02 249.61,567.91 266.12,572.88" fill="none" stroke="#00007e" stroke-width="1.2"/>
<line x1="84.51" y1="552.36" x2="84.51" y2="565.6" stroke="#00007e" stroke-width="0.9"/>
<line x1="82.91" y1="552.36" x2="86.11" y2="552.36" stroke="#00007e" stroke-width="0.9"/>
<line x1="82.91" y1="565.6" x2="86.11" y2="565.6" stroke="#00007e" stroke-width="0.9"/>
<circle cx="84.51" cy="558.98" r="2" fill="#00007e"/>
<line x1="101.02" y1="554.67" x2="101.02" y2="567.91" stroke="#00007e" stroke-width="0.9"/>
<line x1="99.42" y1="554.67" x2="102.62" y2="554.67" stroke="#00007e" stroke-width="0.9"/>
<line x1="99.42" y1="567.91" x2="102.62" y2="567.91" stroke="#00007e" stroke-width="0.9"/>
<circle cx="101.02" cy="561.29" r="2" fill="#00007e"/>
<line x1="117.53" y1="556" x2="117.53" y2="567.91" stroke="#00007e" stroke-width="0.9"/>
<line x1="115.93" y1="556" x2="119.13" y2="556" stroke="#00007e" stroke-width="0.9"/>
<line x1="115.93" y1="567.91" x2="119.13" y2="567.91" stroke="#00007e" stroke-width="0.9"/>
<circle cx="117.53" cy="561.95" r="2" fill="#00007e"/>
<line x1="134.04" y1="502.71" x2="134.04" y2="510.65" stroke="#00007e" stroke-width="0.9"/>
<line x1="132.44" y1="502.71" x2="135.64" y2="502.71" stroke="#00007e" stroke-width="0.9"/>
<line x1="132.44" y1="510.65" x2="135.64" y2="510.65" stroke="#00007e" stroke-width="0.9"/>
<circle cx="134.04" cy="506.68" r="2" fill="#00007e"/>
<line x1="150.55" y1="519.26" x2="150.55" y2="525.88" stroke="#00007e" stroke-width="0.9"/>
<line x1="148.95" y1="519.26" x2="152.15" y2="519.26" stroke="#00007e" stroke-width="0.9"/>
<line x1="148.95" y1="525.88" x2="152.15" y2="525.88" stroke="#00007e" stroke-width="0.9"/>
<circle cx="150.55" cy="522.57" r="2" fill="#00007e"/>
<line x1="167.06" y1="523.23" x2="167.06" y2="528.52" stroke="#00007e" stroke-width="0.9"/>
<line x1="165.46" y1="523.23" x2="168.66" y2="523.23" stroke="#00007e" stroke-width="0.9"/>
<line x1="165.46" y1="528.52" x2="168.66" y2="528.52" stroke="#00007e" stroke-width="0.9"/>
<circle cx="167.06" cy="525.88" r="2" fill="#00007e"/>
<line x1="183.57" y1="466.96" x2="183.57" y2="478.87" stroke="#00007e" stroke-width="0.9"/>
<line x1="181.97" y1="466.96" x2="185.17" y2="466.96" stroke="#00007e" stroke-width="0.9"/>
<line x1="181.97" y1="478.87" x2="185.17" y2="478.87" stroke="#00007e" stroke-width="0.9"/>
<circle cx="183.57" cy="472.92" r="2" fill="#00007e"/>
<line x1="200.08" y1="481.52" x2="200.08" y2="492.11" stroke="#00007e" stroke-width="0.9"/>
<line x1="198.48" y1="481.52" x2="201.68" y2="481.52" stroke="#00007e" stroke-width="0.9"/>
<line x1="198.48" y1="492.11" x2="201.68" y2="492.11" stroke="#00007e" stroke-width="0.9"/>
<circle cx="200.08" cy="486.82" r="2" fill="#00007e"/>
<line x1="216.59" y1="486.16" x2="216.59" y2="494.1" stroke="#00007e" stroke-width="0.9"/>
<line x1="214.99" y1="486.16" x2="218.19" y2="486.16" stroke="#00007e" stroke-width="0.9"/>
<line x1="214.99" y1="494.1" x2="218.19" y2="494.1" stroke="#00007e" stroke-width="0.9"/>
<circle cx="216.59" cy="490.13" r="2" fill="#00007e"/>
<line x1="233.1" y1="550.37" x2="233.1" y2="555.67" stroke="#00007e" stroke-width="0.9"/>
<line x1="231.5" y1="550.37" x2="234.7" y2="550.37" stroke="#00007e" stroke-width="0.9"/>
<line x1="231.5" y1="555.67" x2="234.7" y2="555.67" stroke="#00007e" stroke-width="0.9"/>
<circle cx="233.1" cy="553.02" r="2" fill="#00007e"/>
<line x1="249.61" y1="565.26" x2="249.61" y2="570.56" stroke="#00007e" stroke-width="0.9"/>
<line x1="248.01" y1="565.26" x2="251.21" y2="565.26" stroke="#00007e" stroke-width="0.9"/>
<line x1="248.01" y1="570.56" x2="251.21" y2="570.56" stroke="#00007e" stroke-width="0.9"/>
<circle cx="249.61" cy="567.91" r="2" fill="#00007e"/>
<line x1="266.12" y1="570.89" x2="266.12" y2="574.86" stroke="#00007e" stroke-width="0.9"/>
<line x1="264.52" y1="570.89" x2="267.72" y2="570.89" stroke="#00007e" stroke-width="0.9"/>
<line x1="264.52" y1="574.86" x2="267.72" y2="574.86" stroke="#00007e" stroke-width="0.9"/>
<circle cx="266.12" cy="572.88" r="2" fill="#00007e"/>
<text x="134.04" y="561.1" font-size="11" text-anchor="middle" fill="#000">*</text>
<text x="150.55" y="566.1" font-size="11" text-anchor="middle" fill="#000">*</text>
<text x="167.06" y="566.1" font-size="11" text-anchor="middle" fill="#000">*</text>
<text x="183.57" y="563.9" font-size="11" text-anchor="middle" fill="#000">*</text>
<text x="200.08" y="565.6" font-size="11" text-anchor="middle" fill="#000">*</text>
<text x="216.59" y="565.6" font-size="11" text-anchor="middle" fill="#000">*</text>
<text x="183.57" y="464.3" font-size="11" text-anchor="middle" fill="#000">*</text>
<text x="200.08" y="473.8" font-size="11" text-anchor="middle" fill="#000">*</text>
<text x="216.59" y="476.1" font-size="11" text-anchor="middle" fill="#000">*</text>
<line x1="236" y1="465.4" x2="244.9" y2="465.4" stroke="#00007e" stroke-width="1.2"/>
<circle cx="240.45" cy="465.4" r="2.1" fill="#00007e"/>
<text x="250.5" y="467.9" font-size="6.9" fill="#000">Vector</text>
<line x1="236" y1="478.3" x2="244.9" y2="478.3" stroke="#9c0000" stroke-width="1.2"/>
<circle cx="240.45" cy="478.3" r="2.1" fill="#9c0000"/>
<text x="250.5" y="480.8" font-size="6.9" fill="#000">KDM6A<tspan font-size="4.97" dy="-3.2">WT</tspan></text>
<line x1="236" y1="490.3" x2="244.9" y2="490.3" stroke="#005a00" stroke-width="1.2"/>
<circle cx="240.45" cy="490.3" r="2.1" fill="#005a00"/>
<text x="250.5" y="492.8" font-size="6.9" fill="#000">KDM6A<tspan font-size="4.97" dy="-3.2">S829A</tspan></text>
<line x1="236" y1="502" x2="244.9" y2="502" stroke="#98641f" stroke-width="1.2"/>
<circle cx="240.45" cy="502" r="2.1" fill="#98641f"/>
<text x="250.5" y="504.5" font-size="6.9" fill="#000">KDM6A<tspan font-size="4.97" dy="-3.2">S829D</tspan></text>
<text x="52.3" y="445.2" font-size="11.8" fill="#000">CAL27</text>
<text x="0" y="0" font-size="10.4" font-weight="bold" text-anchor="middle" fill="#000" transform="translate(46.7,524.6) rotate(-90)">ECAR</text>
<text x="0" y="0" font-size="10.9" font-weight="bold" text-anchor="middle" fill="#000" transform="translate(59.8,523.5) rotate(-90)">(pmol/min per µg protein)</text>
<line x1="368.2" y1="281" x2="368.2" y2="376.65" stroke="#000" stroke-width="1"/>
<line x1="367.7" y1="376.2" x2="432.1" y2="376.2" stroke="#000" stroke-width="1"/>
<line x1="365.8" y1="281.5" x2="368.2" y2="281.5" stroke="#000" stroke-width="0.9"/>
<text x="365" y="284" font-size="7.4" font-weight="bold" text-anchor="end" fill="#000">250000</text>
<line x1="365.8" y1="300.44" x2="368.2" y2="300.44" stroke="#000" stroke-width="0.9"/>
<text x="365" y="302.94" font-size="7.4" font-weight="bold" text-anchor="end" fill="#000">200000</text>
<line x1="365.8" y1="319.38" x2="368.2" y2="319.38" stroke="#000" stroke-width="0.9"/>
<text x="365" y="321.88" font-size="7.4" font-weight="bold" text-anchor="end" fill="#000">150000</text>
<line x1="365.8" y1="338.32" x2="368.2" y2="338.32" stroke="#000" stroke-width="0.9"/>
<text x="365" y="340.82" font-size="7.4" font-weight="bold" text-anchor="end" fill="#000">100000</text>
<line x1="365.8" y1="357.26" x2="368.2" y2="357.26" stroke="#000" stroke-width="0.9"/>
<text x="365" y="359.76" font-size="7.4" font-weight="bold" text-anchor="end" fill="#000">50000</text>
<line x1="365.8" y1="376.2" x2="368.2" y2="376.2" stroke="#000" stroke-width="0.9"/>
<text x="365" y="378.7" font-size="7.4" font-weight="bold" text-anchor="end" fill="#000">0</text>
<rect x="377.4" y="335.5" width="17.7" height="40.7" fill="#00007e" stroke="#111" stroke-width="0.6"/>
<line x1="386.25" y1="335.5" x2="386.25" y2="330" stroke="#000" stroke-width="0.9"/>
<line x1="382.75" y1="330" x2="389.75" y2="330" stroke="#000" stroke-width="0.9"/>
<circle cx="382.4" cy="327.4" r="1.8" fill="#ffffff" stroke="#000" stroke-width="0.55"/>
<circle cx="390.1" cy="325.7" r="1.8" fill="#ffffff" stroke="#000" stroke-width="0.55"/>
<circle cx="386.1" cy="341.2" r="1.8" fill="#ffffff" stroke="#000" stroke-width="0.55"/>
<circle cx="386.1" cy="347.8" r="1.8" fill="#ffffff" stroke="#000" stroke-width="0.55"/>
<rect x="404.7" y="311" width="17.8" height="65.2" fill="#9c0000" stroke="#111" stroke-width="0.6"/>
<line x1="413.6" y1="311" x2="413.6" y2="301.2" stroke="#000" stroke-width="0.9"/>
<line x1="410.1" y1="301.2" x2="417.1" y2="301.2" stroke="#000" stroke-width="0.9"/>
<rect x="411.7" y="284.5" width="3.6" height="3.6" fill="#9c0000" stroke="#000" stroke-width="0.55"/>
<rect x="411.7" y="309.2" width="3.6" height="3.6" fill="#9c0000" stroke="#000" stroke-width="0.55"/>
<rect x="411.7" y="313.6" width="3.6" height="3.6" fill="#9c0000" stroke="#000" stroke-width="0.55"/>
<rect x="411.7" y="328.9" width="3.6" height="3.6" fill="#9c0000" stroke="#000" stroke-width="0.55"/>
<text x="399.5" y="269" font-size="8.6" font-weight="bold" text-anchor="middle" fill="#000">ATP</text>
<text x="393.4" y="281.1" font-size="7.8" text-anchor="middle" fill="#000">p=0.061</text>
<text x="0" y="0" font-size="10.6" font-weight="bold" text-anchor="middle" fill="#000" transform="translate(334.9,328.4) rotate(-90)">Content</text>
<text x="0" y="0" font-size="7.5" font-weight="bold" fill="#000" transform="translate(358.8,416.5) rotate(-45)">KDM6A</text>
<text x="0" y="0" font-size="5.6" fill="#000" transform="translate(373.4,395.6) rotate(-45)">S829A</text>
<text x="0" y="0" font-size="7.5" font-weight="bold" fill="#000" transform="translate(386.2,416.5) rotate(-45)">KDM6A</text>
<text x="0" y="0" font-size="5.6" fill="#000" transform="translate(400.4,395.6) rotate(-45)">S829D</text>
<line x1="490.7" y1="278.8" x2="490.7" y2="375.15" stroke="#000" stroke-width="1"/>
<line x1="490.2" y1="374.7" x2="643.6" y2="374.7" stroke="#000" stroke-width="1"/>
<line x1="488.3" y1="279.3" x2="490.7" y2="279.3" stroke="#000" stroke-width="0.9"/>
<text x="487.3" y="281.9" font-size="7.6" font-weight="bold" text-anchor="end" fill="#000">1.5</text>
<line x1="488.3" y1="311.1" x2="490.7" y2="311.1" stroke="#000" stroke-width="0.9"/>
<text x="487.3" y="313.7" font-size="7.6" font-weight="bold" text-anchor="end" fill="#000">1.0</text>
<line x1="488.3" y1="342.9" x2="490.7" y2="342.9" stroke="#000" stroke-width="0.9"/>
<text x="487.3" y="345.5" font-size="7.6" font-weight="bold" text-anchor="end" fill="#000">0.5</text>
<line x1="488.3" y1="374.7" x2="490.7" y2="374.7" stroke="#000" stroke-width="0.9"/>
<text x="487.3" y="377.3" font-size="7.6" font-weight="bold" text-anchor="end" fill="#000">0.0</text>
<line x1="513.8" y1="374.7" x2="513.8" y2="377.2" stroke="#000" stroke-width="0.9"/>
<line x1="566.9" y1="374.7" x2="566.9" y2="377.2" stroke="#000" stroke-width="0.9"/>
<line x1="620.6" y1="374.7" x2="620.6" y2="377.2" stroke="#000" stroke-width="0.9"/>
<line x1="504.05" y1="309.3" x2="504.05" y2="313.2" stroke="#333" stroke-width="0.7"/>
<line x1="504.05" y1="327.7" x2="504.05" y2="328.5" stroke="#333" stroke-width="0.7"/>
<line x1="501.35" y1="309.3" x2="506.75" y2="309.3" stroke="#333" stroke-width="0.7"/>
<line x1="501.35" y1="328.5" x2="506.75" y2="328.5" stroke="#333" stroke-width="0.7"/>
<rect x="497.4" y="313.2" width="13.3" height="14.5" fill="#00007e" stroke="#222" stroke-width="0.6"/>
<line x1="497.4" y1="324.4" x2="510.7" y2="324.4" stroke="#000" stroke-width="0.8"/>
<line x1="523.85" y1="284.8" x2="523.85" y2="285.2" stroke="#333" stroke-width="0.7"/>
<line x1="523.85" y1="318.3" x2="523.85" y2="321.4" stroke="#333" stroke-width="0.7"/>
<line x1="521.15" y1="284.8" x2="526.55" y2="284.8" stroke="#333" stroke-width="0.7"/>
<line x1="521.15" y1="321.4" x2="526.55" y2="321.4" stroke="#333" stroke-width="0.7"/>
<rect x="517.2" y="285.2" width="13.3" height="33.1" fill="#9c0000" stroke="#222" stroke-width="0.6"/>
<line x1="517.2" y1="298.5" x2="530.5" y2="298.5" stroke="#000" stroke-width="0.8"/>
<line x1="557.15" y1="364" x2="557.15" y2="364.3" stroke="#333" stroke-width="0.7"/>
<line x1="557.15" y1="369.6" x2="557.15" y2="369.8" stroke="#333" stroke-width="0.7"/>
<line x1="554.45" y1="364" x2="559.85" y2="364" stroke="#333" stroke-width="0.7"/>
<line x1="554.45" y1="369.8" x2="559.85" y2="369.8" stroke="#333" stroke-width="0.7"/>
<rect x="550.6" y="364.3" width="13.1" height="5.3" fill="#00007e" stroke="#222" stroke-width="0.6"/>
<line x1="550.6" y1="367.5" x2="563.7" y2="367.5" stroke="#000" stroke-width="0.8"/>
<line x1="576.95" y1="364.5" x2="576.95" y2="364.7" stroke="#333" stroke-width="0.7"/>
<line x1="576.95" y1="367" x2="576.95" y2="367.2" stroke="#333" stroke-width="0.7"/>
<line x1="574.25" y1="364.5" x2="579.65" y2="364.5" stroke="#333" stroke-width="0.7"/>
<line x1="574.25" y1="367.2" x2="579.65" y2="367.2" stroke="#333" stroke-width="0.7"/>
<rect x="570.4" y="364.7" width="13.1" height="2.3" fill="#9c0000" stroke="#222" stroke-width="0.6"/>
<line x1="570.4" y1="365.9" x2="583.5" y2="365.9" stroke="#000" stroke-width="0.8"/>
<line x1="610.3" y1="366.1" x2="610.3" y2="366.4" stroke="#333" stroke-width="0.7"/>
<line x1="610.3" y1="370.3" x2="610.3" y2="370.5" stroke="#333" stroke-width="0.7"/>
<line x1="607.6" y1="366.1" x2="613" y2="366.1" stroke="#333" stroke-width="0.7"/>
<line x1="607.6" y1="370.5" x2="613" y2="370.5" stroke="#333" stroke-width="0.7"/>
<rect x="603.8" y="366.4" width="13" height="3.9" fill="#00007e" stroke="#222" stroke-width="0.6"/>
<line x1="603.8" y1="368.5" x2="616.8" y2="368.5" stroke="#000" stroke-width="0.8"/>
<line x1="630.55" y1="362.3" x2="630.55" y2="362.6" stroke="#333" stroke-width="0.7"/>
<line x1="630.55" y1="366.4" x2="630.55" y2="366.7" stroke="#333" stroke-width="0.7"/>
<line x1="627.85" y1="362.3" x2="633.25" y2="362.3" stroke="#333" stroke-width="0.7"/>
<line x1="627.85" y1="366.7" x2="633.25" y2="366.7" stroke="#333" stroke-width="0.7"/>
<rect x="624.1" y="362.6" width="12.9" height="3.8" fill="#9c0000" stroke="#222" stroke-width="0.6"/>
<line x1="624.1" y1="364.6" x2="637" y2="364.6" stroke="#000" stroke-width="0.8"/>
<line x1="500.9" y1="281.1" x2="525.8" y2="281.1" stroke="#000" stroke-width="0.9"/>
<text x="514.2" y="279" font-size="8.1" text-anchor="middle" fill="#000">p=0.08</text>
<line x1="611.1" y1="356.8" x2="631.8" y2="356.8" stroke="#000" stroke-width="0.9"/>
<text x="622.5" y="358.3" font-size="10" text-anchor="middle" fill="#000">*</text>
<text x="625.2" y="347.2" font-size="8" text-anchor="middle" fill="#000">p=0.03</text>
<text x="0" y="0" font-size="10.4" font-weight="bold" text-anchor="middle" fill="#000" transform="translate(470.4,326.5) rotate(-90)">Content(fold change)</text>
<text x="0" y="0" font-size="7.6" font-weight="bold" text-anchor="end" fill="#000" transform="translate(517,383) rotate(-45)">ATP/ADP</text>
<text x="0" y="0" font-size="7.6" font-weight="bold" text-anchor="end" fill="#000" transform="translate(570.5,383.2) rotate(-45)">ADP/AMP</text>
<text x="0" y="0" font-size="7.6" font-weight="bold" text-anchor="end" fill="#000" transform="translate(623,382.8) rotate(-45)">ATP/AMP</text>
<rect x="576.4" y="280.6" width="10.4" height="5" fill="#00007e" stroke="#222" stroke-width="0.4"/>
<rect x="576.4" y="291.4" width="10.4" height="5.5" fill="#9c0000" stroke="#222" stroke-width="0.4"/>
<text x="592.5" y="286.8" font-size="8.1" fill="#000">KDM6A<tspan font-size="5.4" dy="-3.3">S829A</tspan></text>
<text x="592.5" y="297.4" font-size="8.1" fill="#000">KDM6A<tspan font-size="5.4" dy="-3.3">S829D</tspan></text>
<text x="428.2" y="432.9" font-size="9.75" font-weight="bold" text-anchor="middle" fill="#000">Normalized Enrichment Score</text>
<text x="369.6" y="449.6" font-size="8.6" font-weight="bold" text-anchor="middle" fill="#000">0.0</text>
<line x1="369.6" y1="450.2" x2="369.6" y2="454.8" stroke="#000" stroke-width="1.2"/>
<line x1="369.6" y1="534.2" x2="369.6" y2="538.8" stroke="#000" stroke-width="1.2"/>
<text x="398.83" y="449.6" font-size="8.6" font-weight="bold" text-anchor="middle" fill="#000">0.5</text>
<line x1="398.83" y1="450.2" x2="398.83" y2="454.8" stroke="#000" stroke-width="1.2"/>
<line x1="398.83" y1="534.2" x2="398.83" y2="538.8" stroke="#000" stroke-width="1.2"/>
<text x="428.05" y="449.6" font-size="8.6" font-weight="bold" text-anchor="middle" fill="#000">1.0</text>
<line x1="428.05" y1="450.2" x2="428.05" y2="454.8" stroke="#000" stroke-width="1.2"/>
<line x1="428.05" y1="534.2" x2="428.05" y2="538.8" stroke="#000" stroke-width="1.2"/>
<text x="457.27" y="449.6" font-size="8.6" font-weight="bold" text-anchor="middle" fill="#000">1.5</text>
<line x1="457.27" y1="450.2" x2="457.27" y2="454.8" stroke="#000" stroke-width="1.2"/>
<line x1="457.27" y1="534.2" x2="457.27" y2="538.8" stroke="#000" stroke-width="1.2"/>
<text x="486.5" y="449.6" font-size="8.6" font-weight="bold" text-anchor="middle" fill="#000">2.0</text>
<line x1="486.5" y1="450.2" x2="486.5" y2="454.8" stroke="#000" stroke-width="1.2"/>
<line x1="486.5" y1="534.2" x2="486.5" y2="538.8" stroke="#000" stroke-width="1.2"/>
<rect x="370.1" y="458.5" width="107.3" height="6.4" fill="#fbbf80"/>
<rect x="370.1" y="468.1" width="104.2" height="6.4" fill="#fbbf80"/>
<rect x="370.1" y="477.4" width="94.9" height="6.4" fill="#fbbf80"/>
<rect x="370.1" y="486.7" width="91.8" height="6.4" fill="#fbbf80"/>
<rect x="370.1" y="496.1" width="84.8" height="6.4" fill="#fbbf80"/>
<rect x="370.1" y="505.7" width="79.9" height="6.4" fill="#fbbf80"/>
<rect x="370.1" y="514.8" width="74.5" height="6.4" fill="#fbbf80"/>
<rect x="370.1" y="524.1" width="72" height="6.4" fill="#fbbf80"/>
<rect x="370.1" y="541.5" width="93.7" height="6.2" fill="#8fbcf4"/>
<rect x="370.1" y="551.1" width="91.8" height="6.2" fill="#8fbcf4"/>
<rect x="370.1" y="560.4" width="91.4" height="6.2" fill="#8fbcf4"/>
<rect x="370.1" y="569.8" width="87.9" height="6.2" fill="#8fbcf4"/>
<rect x="370.1" y="579.1" width="87.2" height="6.2" fill="#8fbcf4"/>
<rect x="370.1" y="588.5" width="86.7" height="6.2" fill="#8fbcf4"/>
<rect x="370.1" y="597.8" width="85.5" height="6.2" fill="#8fbcf4"/>
<rect x="370.1" y="607.1" width="83.2" height="6.2" fill="#8fbcf4"/>
<rect x="369.6" y="454.8" width="116.9" height="162" fill="none" stroke="#000" stroke-width="1.2"/>
<line x1="369.6" y1="538.8" x2="486.5" y2="538.8" stroke="#000" stroke-width="1.2"/>
<text x="0" y="0" font-size="8" font-weight="bold" text-anchor="middle" fill="#000" transform="translate(359.9,495.5) rotate(-90)">Activated</text>
<text x="0" y="0" font-size="8" font-weight="bold" text-anchor="middle" fill="#000" transform="translate(361.6,576.1) rotate(-90)">Suppressed</text>
<text x="488.5" y="464.3" font-size="8" font-weight="bold" fill="#fa0a0a">Glycolysis</text>
<text x="488.5" y="473.8" font-size="8" fill="#000">Salvage pyrimidine ribonucleotides</text>
<text x="488.5" y="483.2" font-size="8" fill="#000">Pentose phosphate pathway</text>
<text x="488.5" y="492.5" font-size="8" fill="#000">Fructose galactose metabolism</text>
<text x="488.5" y="502.1" font-size="8" fill="#000">Mannose metabolism</text>
<text x="488.5" y="511.8" font-size="8" fill="#000">Blood coagulation</text>
<text x="488.5" y="521.7" font-size="8" fill="#000">5HT3 type receptor mediated signaling pathway</text>
<text x="488.5" y="530.7" font-size="8" fill="#000">Serine glycine biosynthesis</text>
<text x="488.5" y="547.1" font-size="8" fill="#000">Endothelin signaling pathway</text>
<text x="488.5" y="556.5" font-size="8" fill="#000">p53 pathway feedback loops 2</text>
<text x="488.5" y="566.1" font-size="8" fill="#000">Cadherin signaling pathway</text>
<text x="488.5" y="575.5" font-size="8" fill="#000">Insulin/IGF pathway-protein kinase B signaling cascade</text>
<text x="488.5" y="584.8" font-size="8" fill="#000">PDGF signaling pathway</text>
<text x="488.5" y="594.4" font-size="8" fill="#000">Hypoxia response via HIF activation</text>
<text x="488.5" y="604.1" font-size="8" fill="#000">JAK/STAT signaling pathway</text>
<text x="488.5" y="613.4" font-size="8" fill="#000">Axon guidance mediated by semaphorins</text>
<line x1="65.2" y1="636.19" x2="65.2" y2="770.85" stroke="#000" stroke-width="1.1"/>
<line x1="64.7" y1="770.4" x2="312.3" y2="770.4" stroke="#000" stroke-width="1.1"/>
<line x1="312.3" y1="770.9" x2="625.9" y2="770.9" stroke="#000" stroke-width="1.1"/>
<line x1="62.4" y1="770.4" x2="65.2" y2="770.4" stroke="#000" stroke-width="1"/>
<text x="59.9" y="774.1" font-size="10.2" font-weight="bold" text-anchor="end" fill="#000">0</text>
<line x1="62.4" y1="725.83" x2="65.2" y2="725.83" stroke="#000" stroke-width="1"/>
<text x="59.9" y="729.53" font-size="10.2" font-weight="bold" text-anchor="end" fill="#000">1</text>
<line x1="62.4" y1="681.26" x2="65.2" y2="681.26" stroke="#000" stroke-width="1"/>
<text x="59.9" y="684.96" font-size="10.2" font-weight="bold" text-anchor="end" fill="#000">2</text>
<line x1="62.4" y1="636.69" x2="65.2" y2="636.69" stroke="#000" stroke-width="1"/>
<text x="59.9" y="640.39" font-size="10.2" font-weight="bold" text-anchor="end" fill="#000">3</text>
<text x="0" y="0" font-size="11" font-weight="bold" text-anchor="middle" fill="#000" transform="translate(48.8,703) rotate(-90)">Relative mRNA level</text>
<rect x="72.8" y="634.1" width="9.6" height="4.6" fill="#00007e" stroke="#222" stroke-width="0.4"/>
<text x="87.2" y="638.3" font-size="7.4" fill="#000">Vector</text>
<rect x="72.8" y="646.5" width="9.6" height="4.6" fill="#9c0000" stroke="#222" stroke-width="0.4"/>
<text x="87.2" y="650.7" font-size="7.4" fill="#000">KDM6A-WT</text>
<rect x="133" y="634.1" width="9.6" height="4.6" fill="#005a00" stroke="#222" stroke-width="0.4"/>
<text x="147.4" y="638.3" font-size="7.4" fill="#000">KDM6A-S829A</text>
<rect x="133" y="646.5" width="9.6" height="4.6" fill="#98641f" stroke="#222" stroke-width="0.4"/>
<text x="147.4" y="650.7" font-size="7.4" fill="#000">KDM6A-S829D</text>
<rect x="69.1" y="720" width="5.9" height="50.4" fill="#00007e" stroke="#111" stroke-width="0.55"/>
<line x1="72.05" y1="720" x2="72.05" y2="716" stroke="#000" stroke-width="0.9"/>
<line x1="70.15" y1="716" x2="73.95" y2="716" stroke="#000" stroke-width="0.9"/>
<circle cx="71.58" cy="715.1" r="1.1" fill="#000"/>
<circle cx="72.13" cy="716.2" r="1.1" fill="#000"/>
<circle cx="71.82" cy="724" r="1.1" fill="#000"/>
<rect x="78.05" y="727.1" width="5.9" height="43.3" fill="#9c0000" stroke="#111" stroke-width="0.55"/>
<line x1="81" y1="727.1" x2="81" y2="724" stroke="#000" stroke-width="0.9"/>
<line x1="79.1" y1="724" x2="82.9" y2="724" stroke="#000" stroke-width="0.9"/>
<circle cx="81.19" cy="723.4" r="1.1" fill="#000"/>
<circle cx="81.23" cy="725.5" r="1.1" fill="#000"/>
<circle cx="80.22" cy="727.5" r="1.1" fill="#000"/>
<rect x="87" y="731.9" width="5.9" height="38.5" fill="#005a00" stroke="#111" stroke-width="0.55"/>
<line x1="89.95" y1="731.9" x2="89.95" y2="727.8" stroke="#000" stroke-width="0.9"/>
<line x1="88.05" y1="727.8" x2="91.85" y2="727.8" stroke="#000" stroke-width="0.9"/>
<circle cx="89.07" cy="727.5" r="1.1" fill="#000"/>
<circle cx="90.56" cy="729.5" r="1.1" fill="#000"/>
<circle cx="89.52" cy="736.5" r="1.1" fill="#000"/>
<rect x="95.95" y="717.2" width="5.9" height="53.2" fill="#98641f" stroke="#111" stroke-width="0.55"/>
<line x1="98.9" y1="717.2" x2="98.9" y2="712.5" stroke="#000" stroke-width="0.9"/>
<line x1="97" y1="712.5" x2="100.8" y2="712.5" stroke="#000" stroke-width="0.9"/>
<circle cx="98.42" cy="707.3" r="1.1" fill="#000"/>
<circle cx="99.79" cy="717.8" r="1.1" fill="#000"/>
<circle cx="98.85" cy="724" r="1.1" fill="#000"/>
<line x1="85" y1="770.4" x2="85" y2="773.6" stroke="#000" stroke-width="1"/>
<text x="85" y="785.3" font-size="10.2" font-weight="bold" text-anchor="middle" fill="#000">GLUT1</text>
<rect x="110.7" y="725.3" width="5.9" height="45.1" fill="#00007e" stroke="#111" stroke-width="0.55"/>
<line x1="113.65" y1="725.3" x2="113.65" y2="721" stroke="#000" stroke-width="0.9"/>
<line x1="111.75" y1="721" x2="115.55" y2="721" stroke="#000" stroke-width="0.9"/>
<circle cx="114.26" cy="715.4" r="1.1" fill="#000"/>
<circle cx="113.61" cy="731.9" r="1.1" fill="#000"/>
<circle cx="113.9" cy="731.5" r="1.1" fill="#000"/>
<rect x="119.65" y="721" width="5.9" height="49.4" fill="#9c0000" stroke="#111" stroke-width="0.55"/>
<line x1="122.6" y1="721" x2="122.6" y2="717.8" stroke="#000" stroke-width="0.9"/>
<line x1="120.7" y1="717.8" x2="124.5" y2="717.8" stroke="#000" stroke-width="0.9"/>
<circle cx="121.97" cy="717" r="1.1" fill="#000"/>
<circle cx="122.84" cy="717.5" r="1.1" fill="#000"/>
<circle cx="123.26" cy="724.7" r="1.1" fill="#000"/>
<rect x="128.6" y="743.9" width="5.9" height="26.5" fill="#005a00" stroke="#111" stroke-width="0.55"/>
<line x1="131.55" y1="743.9" x2="131.55" y2="742.7" stroke="#000" stroke-width="0.9"/>
<line x1="129.65" y1="742.7" x2="133.45" y2="742.7" stroke="#000" stroke-width="0.9"/>
<circle cx="131.59" cy="742.5" r="1.1" fill="#000"/>
<circle cx="131.98" cy="743.5" r="1.1" fill="#000"/>
<circle cx="131.86" cy="744.5" r="1.1" fill="#000"/>
<rect x="137.55" y="716.2" width="5.9" height="54.2" fill="#98641f" stroke="#111" stroke-width="0.55"/>
<line x1="140.5" y1="716.2" x2="140.5" y2="709.8" stroke="#000" stroke-width="0.9"/>
<line x1="138.6" y1="709.8" x2="142.4" y2="709.8" stroke="#000" stroke-width="0.9"/>
<circle cx="139.72" cy="709.2" r="1.1" fill="#000"/>
<circle cx="140.96" cy="712" r="1.1" fill="#000"/>
<circle cx="140.66" cy="724.7" r="1.1" fill="#000"/>
<line x1="126.6" y1="770.4" x2="126.6" y2="773.6" stroke="#000" stroke-width="1"/>
<text x="126.6" y="785.3" font-size="10.2" font-weight="bold" text-anchor="middle" fill="#000">HK1</text>
<rect x="152.3" y="721.7" width="5.9" height="48.7" fill="#00007e" stroke="#111" stroke-width="0.55"/>
<line x1="155.25" y1="721.7" x2="155.25" y2="718.2" stroke="#000" stroke-width="0.9"/>
<line x1="153.35" y1="718.2" x2="157.15" y2="718.2" stroke="#000" stroke-width="0.9"/>
<circle cx="154.89" cy="718" r="1.1" fill="#000"/>
<circle cx="154.41" cy="721" r="1.1" fill="#000"/>
<circle cx="155.91" cy="724.5" r="1.1" fill="#000"/>
<rect x="161.25" y="711.7" width="5.9" height="58.7" fill="#9c0000" stroke="#111" stroke-width="0.55"/>
<line x1="164.2" y1="711.7" x2="164.2" y2="708.2" stroke="#000" stroke-width="0.9"/>
<line x1="162.3" y1="708.2" x2="166.1" y2="708.2" stroke="#000" stroke-width="0.9"/>
<circle cx="164.15" cy="708.6" r="1.1" fill="#000"/>
<circle cx="164.59" cy="711.5" r="1.1" fill="#000"/>
<circle cx="164.88" cy="714.8" r="1.1" fill="#000"/>
<rect x="170.2" y="725.2" width="5.9" height="45.2" fill="#005a00" stroke="#111" stroke-width="0.55"/>
<line x1="173.15" y1="725.2" x2="173.15" y2="721.4" stroke="#000" stroke-width="0.9"/>
<line x1="171.25" y1="721.4" x2="175.05" y2="721.4" stroke="#000" stroke-width="0.9"/>
<circle cx="173.54" cy="713.6" r="1.1" fill="#000"/>
<circle cx="173.91" cy="727.6" r="1.1" fill="#000"/>
<circle cx="172.96" cy="731.4" r="1.1" fill="#000"/>
<rect x="179.15" y="690.3" width="5.9" height="80.1" fill="#98641f" stroke="#111" stroke-width="0.55"/>
<line x1="182.1" y1="690.3" x2="182.1" y2="681" stroke="#000" stroke-width="0.9"/>
<line x1="180.2" y1="681" x2="184" y2="681" stroke="#000" stroke-width="0.9"/>
<circle cx="182.64" cy="673" r="1.1" fill="#000"/>
<circle cx="182" cy="694.2" r="1.1" fill="#000"/>
<circle cx="182.88" cy="702.7" r="1.1" fill="#000"/>
<line x1="168.5" y1="770.4" x2="168.5" y2="773.6" stroke="#000" stroke-width="1"/>
<text x="168.5" y="785.3" font-size="10.2" font-weight="bold" text-anchor="middle" fill="#000">HK2</text>
<rect x="193.9" y="714.4" width="5.9" height="56" fill="#00007e" stroke="#111" stroke-width="0.55"/>
<line x1="196.85" y1="714.4" x2="196.85" y2="710.5" stroke="#000" stroke-width="0.9"/>
<line x1="194.95" y1="710.5" x2="198.75" y2="710.5" stroke="#000" stroke-width="0.9"/>
<circle cx="197.53" cy="707.4" r="1.1" fill="#000"/>
<circle cx="196.13" cy="715" r="1.1" fill="#000"/>
<circle cx="196.19" cy="719.8" r="1.1" fill="#000"/>
<rect x="202.85" y="720.9" width="5.9" height="49.5" fill="#9c0000" stroke="#111" stroke-width="0.55"/>
<line x1="205.8" y1="720.9" x2="205.8" y2="714.4" stroke="#000" stroke-width="0.9"/>
<line x1="203.9" y1="714.4" x2="207.7" y2="714.4" stroke="#000" stroke-width="0.9"/>
<circle cx="205.29" cy="715" r="1.1" fill="#000"/>
<circle cx="206.64" cy="720" r="1.1" fill="#000"/>
<circle cx="205.69" cy="726.8" r="1.1" fill="#000"/>
<rect x="211.8" y="727.6" width="5.9" height="42.8" fill="#005a00" stroke="#111" stroke-width="0.55"/>
<line x1="214.75" y1="727.6" x2="214.75" y2="724.5" stroke="#000" stroke-width="0.9"/>
<line x1="212.85" y1="724.5" x2="216.65" y2="724.5" stroke="#000" stroke-width="0.9"/>
<circle cx="214.98" cy="721" r="1.1" fill="#000"/>
<circle cx="214.39" cy="727" r="1.1" fill="#000"/>
<circle cx="214.76" cy="730.7" r="1.1" fill="#000"/>
<rect x="220.75" y="694.2" width="5.9" height="76.2" fill="#98641f" stroke="#111" stroke-width="0.55"/>
<line x1="223.7" y1="694.2" x2="223.7" y2="688" stroke="#000" stroke-width="0.9"/>
<line x1="221.8" y1="688" x2="225.6" y2="688" stroke="#000" stroke-width="0.9"/>
<circle cx="223.49" cy="678.2" r="1.1" fill="#000"/>
<circle cx="223.43" cy="697.3" r="1.1" fill="#000"/>
<circle cx="223.85" cy="701.2" r="1.1" fill="#000"/>
<line x1="210.4" y1="770.4" x2="210.4" y2="773.6" stroke="#000" stroke-width="1"/>
<text x="210.4" y="785.3" font-size="10.2" font-weight="bold" text-anchor="middle" fill="#000">GPI</text>
<rect x="235.5" y="725.8" width="5.9" height="44.6" fill="#00007e" stroke="#111" stroke-width="0.55"/>
<line x1="238.45" y1="725.8" x2="238.45" y2="722.6" stroke="#000" stroke-width="0.9"/>
<line x1="236.55" y1="722.6" x2="240.35" y2="722.6" stroke="#000" stroke-width="0.9"/>
<circle cx="238.6" cy="716.5" r="1.1" fill="#000"/>
<circle cx="239.18" cy="727.1" r="1.1" fill="#000"/>
<circle cx="238.78" cy="730.3" r="1.1" fill="#000"/>
<rect x="244.45" y="741.1" width="5.9" height="29.3" fill="#9c0000" stroke="#111" stroke-width="0.55"/>
<line x1="247.4" y1="741.1" x2="247.4" y2="738.5" stroke="#000" stroke-width="0.9"/>
<line x1="245.5" y1="738.5" x2="249.3" y2="738.5" stroke="#000" stroke-width="0.9"/>
<circle cx="248.17" cy="733.8" r="1.1" fill="#000"/>
<circle cx="248.04" cy="742.7" r="1.1" fill="#000"/>
<circle cx="248.28" cy="744.6" r="1.1" fill="#000"/>
<rect x="253.4" y="738.8" width="5.9" height="31.6" fill="#005a00" stroke="#111" stroke-width="0.55"/>
<line x1="256.35" y1="738.8" x2="256.35" y2="729.7" stroke="#000" stroke-width="0.9"/>
<line x1="254.45" y1="729.7" x2="258.25" y2="729.7" stroke="#000" stroke-width="0.9"/>
<circle cx="256.66" cy="724.5" r="1.1" fill="#000"/>
<circle cx="255.74" cy="726.4" r="1.1" fill="#000"/>
<circle cx="257" cy="740.1" r="1.1" fill="#000"/>
<circle cx="257.19" cy="761.9" r="1.1" fill="#000"/>
<rect x="262.35" y="708.9" width="5.9" height="61.5" fill="#98641f" stroke="#111" stroke-width="0.55"/>
<line x1="265.3" y1="708.9" x2="265.3" y2="705" stroke="#000" stroke-width="0.9"/>
<line x1="263.4" y1="705" x2="267.2" y2="705" stroke="#000" stroke-width="0.9"/>
<circle cx="266.03" cy="700.9" r="1.1" fill="#000"/>
<circle cx="265.42" cy="705" r="1.1" fill="#000"/>
<circle cx="265.68" cy="710.9" r="1.1" fill="#000"/>
<circle cx="264.78" cy="718.3" r="1.1" fill="#000"/>
<line x1="251.5" y1="770.4" x2="251.5" y2="773.6" stroke="#000" stroke-width="1"/>
<text x="251.5" y="785.3" font-size="10.2" font-weight="bold" text-anchor="middle" fill="#000">PFKL</text>
<rect x="277.1" y="724.8" width="5.9" height="45.6" fill="#00007e" stroke="#111" stroke-width="0.55"/>
<line x1="280.05" y1="724.8" x2="280.05" y2="717.4" stroke="#000" stroke-width="0.9"/>
<line x1="278.15" y1="717.4" x2="281.95" y2="717.4" stroke="#000" stroke-width="0.9"/>
<circle cx="280.65" cy="709.6" r="1.1" fill="#000"/>
<circle cx="280.18" cy="717.4" r="1.1" fill="#000"/>
<circle cx="279.66" cy="734.9" r="1.1" fill="#000"/>
<rect x="286.05" y="719.3" width="5.9" height="51.1" fill="#9c0000" stroke="#111" stroke-width="0.55"/>
<line x1="289" y1="719.3" x2="289" y2="714.8" stroke="#000" stroke-width="0.9"/>
<line x1="287.1" y1="714.8" x2="290.9" y2="714.8" stroke="#000" stroke-width="0.9"/>
<circle cx="288.21" cy="708.3" r="1.1" fill="#000"/>
<circle cx="289.64" cy="714.8" r="1.1" fill="#000"/>
<circle cx="289.88" cy="732.9" r="1.1" fill="#000"/>
<rect x="295" y="730.3" width="5.9" height="40.1" fill="#005a00" stroke="#111" stroke-width="0.55"/>
<line x1="297.95" y1="730.3" x2="297.95" y2="727.7" stroke="#000" stroke-width="0.9"/>
<line x1="296.05" y1="727.7" x2="299.85" y2="727.7" stroke="#000" stroke-width="0.9"/>
<circle cx="297.21" cy="725.2" r="1.1" fill="#000"/>
<circle cx="298.49" cy="732.3" r="1.1" fill="#000"/>
<rect x="303.95" y="707.6" width="5.9" height="62.8" fill="#98641f" stroke="#111" stroke-width="0.55"/>
<line x1="306.9" y1="707.6" x2="306.9" y2="703.1" stroke="#000" stroke-width="0.9"/>
<line x1="305" y1="703.1" x2="308.8" y2="703.1" stroke="#000" stroke-width="0.9"/>
<circle cx="306.74" cy="701.1" r="1.1" fill="#000"/>
<circle cx="306.27" cy="711.3" r="1.1" fill="#000"/>
<circle cx="306.53" cy="714.8" r="1.1" fill="#000"/>
<line x1="292.8" y1="770.4" x2="292.8" y2="773.6" stroke="#000" stroke-width="1"/>
<text x="292.8" y="785.3" font-size="10.2" font-weight="bold" text-anchor="middle" fill="#000">ALDOA</text>
<rect x="332.8" y="718.7" width="5.9" height="52.2" fill="#00007e" stroke="#111" stroke-width="0.55"/>
<line x1="335.75" y1="718.7" x2="335.75" y2="711.5" stroke="#000" stroke-width="0.9"/>
<line x1="333.85" y1="711.5" x2="337.65" y2="711.5" stroke="#000" stroke-width="0.9"/>
<circle cx="336.23" cy="708" r="1.1" fill="#000"/>
<circle cx="336.42" cy="714.8" r="1.1" fill="#000"/>
<circle cx="334.93" cy="732" r="1.1" fill="#000"/>
<rect x="341.95" y="733.8" width="5.9" height="37.1" fill="#9c0000" stroke="#111" stroke-width="0.55"/>
<line x1="344.9" y1="733.8" x2="344.9" y2="730.3" stroke="#000" stroke-width="0.9"/>
<line x1="343" y1="730.3" x2="346.8" y2="730.3" stroke="#000" stroke-width="0.9"/>
<circle cx="345.11" cy="727.5" r="1.1" fill="#000"/>
<circle cx="344.08" cy="731" r="1.1" fill="#000"/>
<circle cx="345.29" cy="739.4" r="1.1" fill="#000"/>
<rect x="351.1" y="753.7" width="5.9" height="17.2" fill="#005a00" stroke="#111" stroke-width="0.55"/>
<line x1="354.05" y1="753.7" x2="354.05" y2="751.5" stroke="#000" stroke-width="0.9"/>
<line x1="352.15" y1="751.5" x2="355.95" y2="751.5" stroke="#000" stroke-width="0.9"/>
<circle cx="353.75" cy="748.9" r="1.1" fill="#000"/>
<circle cx="354.74" cy="753" r="1.1" fill="#000"/>
<circle cx="354.92" cy="756.9" r="1.1" fill="#000"/>
<rect x="360.25" y="716.1" width="5.9" height="54.8" fill="#98641f" stroke="#111" stroke-width="0.55"/>
<line x1="363.2" y1="716.1" x2="363.2" y2="708.9" stroke="#000" stroke-width="0.9"/>
<line x1="361.3" y1="708.9" x2="365.1" y2="708.9" stroke="#000" stroke-width="0.9"/>
<circle cx="363.21" cy="702.4" r="1.1" fill="#000"/>
<circle cx="364.1" cy="706.3" r="1.1" fill="#000"/>
<circle cx="362.86" cy="722.2" r="1.1" fill="#000"/>
<circle cx="362.44" cy="732.3" r="1.1" fill="#000"/>
<line x1="349.1" y1="770.9" x2="349.1" y2="774.1" stroke="#000" stroke-width="1"/>
<text x="349.1" y="786.4" font-size="10.2" font-weight="bold" text-anchor="middle" fill="#000">GAPDH</text>
<rect x="375.4" y="728.4" width="5.9" height="42.5" fill="#00007e" stroke="#111" stroke-width="0.55"/>
<line x1="378.35" y1="728.4" x2="378.35" y2="721.9" stroke="#000" stroke-width="0.9"/>
<line x1="376.45" y1="721.9" x2="380.25" y2="721.9" stroke="#000" stroke-width="0.9"/>
<circle cx="378.53" cy="720" r="1.1" fill="#000"/>
<circle cx="377.51" cy="723.9" r="1.1" fill="#000"/>
<circle cx="377.81" cy="733.6" r="1.1" fill="#000"/>
<circle cx="378.18" cy="736.8" r="1.1" fill="#000"/>
<rect x="384.55" y="725.2" width="5.9" height="45.7" fill="#9c0000" stroke="#111" stroke-width="0.55"/>
<line x1="387.5" y1="725.2" x2="387.5" y2="721.3" stroke="#000" stroke-width="0.9"/>
<line x1="385.6" y1="721.3" x2="389.4" y2="721.3" stroke="#000" stroke-width="0.9"/>
<circle cx="387.7" cy="721.6" r="1.1" fill="#000"/>
<circle cx="386.88" cy="723" r="1.1" fill="#000"/>
<circle cx="386.68" cy="731" r="1.1" fill="#000"/>
<rect x="393.7" y="746.6" width="5.9" height="24.3" fill="#005a00" stroke="#111" stroke-width="0.55"/>
<line x1="396.65" y1="746.6" x2="396.65" y2="744.2" stroke="#000" stroke-width="0.9"/>
<line x1="394.75" y1="744.2" x2="398.55" y2="744.2" stroke="#000" stroke-width="0.9"/>
<circle cx="397.31" cy="740.7" r="1.1" fill="#000"/>
<circle cx="396.31" cy="751.8" r="1.1" fill="#000"/>
<rect x="402.85" y="700.1" width="5.9" height="70.8" fill="#98641f" stroke="#111" stroke-width="0.55"/>
<line x1="405.8" y1="700.1" x2="405.8" y2="696" stroke="#000" stroke-width="0.9"/>
<line x1="403.9" y1="696" x2="407.7" y2="696" stroke="#000" stroke-width="0.9"/>
<circle cx="406.63" cy="694.9" r="1.1" fill="#000"/>
<circle cx="406.51" cy="697.3" r="1.1" fill="#000"/>
<circle cx="405.58" cy="703.1" r="1.1" fill="#000"/>
<line x1="392" y1="770.9" x2="392" y2="774.1" stroke="#000" stroke-width="1"/>
<text x="392" y="786.4" font-size="10.2" font-weight="bold" text-anchor="middle" fill="#000">PGK1</text>
<rect x="418" y="727.1" width="5.9" height="43.8" fill="#00007e" stroke="#111" stroke-width="0.55"/>
<line x1="420.95" y1="727.1" x2="420.95" y2="718.6" stroke="#000" stroke-width="0.9"/>
<line x1="419.05" y1="718.6" x2="422.85" y2="718.6" stroke="#000" stroke-width="0.9"/>
<circle cx="420.88" cy="705.6" r="1.1" fill="#000"/>
<circle cx="420.99" cy="725" r="1.1" fill="#000"/>
<circle cx="421.21" cy="734.5" r="1.1" fill="#000"/>
<circle cx="421.12" cy="742.5" r="1.1" fill="#000"/>
<rect x="427.15" y="722.6" width="5.9" height="48.3" fill="#9c0000" stroke="#111" stroke-width="0.55"/>
<line x1="430.1" y1="722.6" x2="430.1" y2="719.9" stroke="#000" stroke-width="0.9"/>
<line x1="428.2" y1="719.9" x2="432" y2="719.9" stroke="#000" stroke-width="0.9"/>
<circle cx="430.21" cy="720.4" r="1.1" fill="#000"/>
<circle cx="430.32" cy="725" r="1.1" fill="#000"/>
<rect x="436.3" y="737.6" width="5.9" height="33.3" fill="#005a00" stroke="#111" stroke-width="0.55"/>
<line x1="439.25" y1="737.6" x2="439.25" y2="733.1" stroke="#000" stroke-width="0.9"/>
<line x1="437.35" y1="733.1" x2="441.15" y2="733.1" stroke="#000" stroke-width="0.9"/>
<circle cx="440.04" cy="728.2" r="1.1" fill="#000"/>
<circle cx="439.26" cy="741.8" r="1.1" fill="#000"/>
<circle cx="439.13" cy="745.8" r="1.1" fill="#000"/>
<rect x="445.45" y="718.3" width="5.9" height="52.6" fill="#98641f" stroke="#111" stroke-width="0.55"/>
<line x1="448.4" y1="718.3" x2="448.4" y2="707.8" stroke="#000" stroke-width="0.9"/>
<line x1="446.5" y1="707.8" x2="450.3" y2="707.8" stroke="#000" stroke-width="0.9"/>
<circle cx="448.8" cy="702.3" r="1.1" fill="#000"/>
<circle cx="447.93" cy="714.1" r="1.1" fill="#000"/>
<circle cx="448.04" cy="737.6" r="1.1" fill="#000"/>
<line x1="434.3" y1="770.9" x2="434.3" y2="774.1" stroke="#000" stroke-width="1"/>
<text x="434.3" y="786.4" font-size="10.2" font-weight="bold" text-anchor="middle" fill="#000">PGAM2</text>
<rect x="460.6" y="729.1" width="5.9" height="41.8" fill="#00007e" stroke="#111" stroke-width="0.55"/>
<line x1="463.55" y1="729.1" x2="463.55" y2="726.2" stroke="#000" stroke-width="0.9"/>
<line x1="461.65" y1="726.2" x2="465.45" y2="726.2" stroke="#000" stroke-width="0.9"/>
<circle cx="464.41" cy="721.9" r="1.1" fill="#000"/>
<circle cx="463.59" cy="731.3" r="1.1" fill="#000"/>
<rect x="469.75" y="730.4" width="5.9" height="40.5" fill="#9c0000" stroke="#111" stroke-width="0.55"/>
<line x1="472.7" y1="730.4" x2="472.7" y2="727.1" stroke="#000" stroke-width="0.9"/>
<line x1="470.8" y1="727.1" x2="474.6" y2="727.1" stroke="#000" stroke-width="0.9"/>
<circle cx="472.79" cy="725.5" r="1.1" fill="#000"/>
<circle cx="471.82" cy="736.7" r="1.1" fill="#000"/>
<rect x="478.9" y="735.3" width="5.9" height="35.6" fill="#005a00" stroke="#111" stroke-width="0.55"/>
<line x1="481.85" y1="735.3" x2="481.85" y2="733.1" stroke="#000" stroke-width="0.9"/>
<line x1="479.95" y1="733.1" x2="483.75" y2="733.1" stroke="#000" stroke-width="0.9"/>
<circle cx="481.7" cy="730.7" r="1.1" fill="#000"/>
<circle cx="481.99" cy="736.7" r="1.1" fill="#000"/>
<rect x="488.05" y="656.2" width="5.9" height="114.7" fill="#98641f" stroke="#111" stroke-width="0.55"/>
<line x1="491" y1="656.2" x2="491" y2="654.1" stroke="#000" stroke-width="0.9"/>
<line x1="489.1" y1="654.1" x2="492.9" y2="654.1" stroke="#000" stroke-width="0.9"/>
<circle cx="490.14" cy="654.4" r="1.1" fill="#000"/>
<circle cx="491.21" cy="657.1" r="1.1" fill="#000"/>
<line x1="477.2" y1="770.9" x2="477.2" y2="774.1" stroke="#000" stroke-width="1"/>
<text x="477.2" y="786.4" font-size="10.2" font-weight="bold" text-anchor="middle" fill="#000">ENO1</text>
<rect x="503.2" y="727.2" width="5.9" height="43.7" fill="#00007e" stroke="#111" stroke-width="0.55"/>
<line x1="506.15" y1="727.2" x2="506.15" y2="720.6" stroke="#000" stroke-width="0.9"/>
<line x1="504.25" y1="720.6" x2="508.05" y2="720.6" stroke="#000" stroke-width="0.9"/>
<circle cx="506.39" cy="713.3" r="1.1" fill="#000"/>
<circle cx="505.36" cy="718.2" r="1.1" fill="#000"/>
<circle cx="506.38" cy="737.6" r="1.1" fill="#000"/>
<rect x="512.35" y="735" width="5.9" height="35.9" fill="#9c0000" stroke="#111" stroke-width="0.55"/>
<line x1="515.3" y1="735" x2="515.3" y2="731.4" stroke="#000" stroke-width="0.9"/>
<line x1="513.4" y1="731.4" x2="517.2" y2="731.4" stroke="#000" stroke-width="0.9"/>
<circle cx="515.24" cy="730.7" r="1.1" fill="#000"/>
<circle cx="515.62" cy="736.1" r="1.1" fill="#000"/>
<rect x="521.5" y="743.1" width="5.9" height="27.8" fill="#005a00" stroke="#111" stroke-width="0.55"/>
<line x1="524.45" y1="743.1" x2="524.45" y2="739.7" stroke="#000" stroke-width="0.9"/>
<line x1="522.55" y1="739.7" x2="526.35" y2="739.7" stroke="#000" stroke-width="0.9"/>
<circle cx="524.18" cy="733" r="1.1" fill="#000"/>
<circle cx="524.82" cy="744.6" r="1.1" fill="#000"/>
<circle cx="524.88" cy="748.5" r="1.1" fill="#000"/>
<rect x="530.65" y="717.8" width="5.9" height="53.1" fill="#98641f" stroke="#111" stroke-width="0.55"/>
<line x1="533.6" y1="717.8" x2="533.6" y2="714.4" stroke="#000" stroke-width="0.9"/>
<line x1="531.7" y1="714.4" x2="535.5" y2="714.4" stroke="#000" stroke-width="0.9"/>
<circle cx="532.74" cy="708.9" r="1.1" fill="#000"/>
<circle cx="532.81" cy="716.4" r="1.1" fill="#000"/>
<circle cx="533.92" cy="722.1" r="1.1" fill="#000"/>
<line x1="519.6" y1="770.9" x2="519.6" y2="774.1" stroke="#000" stroke-width="1"/>
<text x="519.6" y="786.4" font-size="10.2" font-weight="bold" text-anchor="middle" fill="#000">PKM2</text>
<rect x="545.8" y="728.3" width="5.9" height="42.6" fill="#00007e" stroke="#111" stroke-width="0.55"/>
<line x1="548.75" y1="728.3" x2="548.75" y2="724.1" stroke="#000" stroke-width="0.9"/>
<line x1="546.85" y1="724.1" x2="550.65" y2="724.1" stroke="#000" stroke-width="0.9"/>
<circle cx="549.58" cy="717" r="1.1" fill="#000"/>
<circle cx="548.3" cy="732.2" r="1.1" fill="#000"/>
<circle cx="548.67" cy="736.1" r="1.1" fill="#000"/>
<rect x="554.95" y="724.1" width="5.9" height="46.8" fill="#9c0000" stroke="#111" stroke-width="0.55"/>
<line x1="557.9" y1="724.1" x2="557.9" y2="721.7" stroke="#000" stroke-width="0.9"/>
<line x1="556" y1="721.7" x2="559.8" y2="721.7" stroke="#000" stroke-width="0.9"/>
<circle cx="558.07" cy="717.9" r="1.1" fill="#000"/>
<circle cx="557.58" cy="727.6" r="1.1" fill="#000"/>
<rect x="564.1" y="747.4" width="5.9" height="23.5" fill="#005a00" stroke="#111" stroke-width="0.55"/>
<line x1="567.05" y1="747.4" x2="567.05" y2="747" stroke="#000" stroke-width="0.9"/>
<line x1="565.15" y1="747" x2="568.95" y2="747" stroke="#000" stroke-width="0.9"/>
<circle cx="566.81" cy="747.7" r="1.1" fill="#000"/>
<circle cx="566.71" cy="749.5" r="1.1" fill="#000"/>
<circle cx="566.81" cy="750.8" r="1.1" fill="#000"/>
<rect x="573.25" y="694.2" width="5.9" height="76.7" fill="#98641f" stroke="#111" stroke-width="0.55"/>
<line x1="576.2" y1="694.2" x2="576.2" y2="688" stroke="#000" stroke-width="0.9"/>
<line x1="574.3" y1="688" x2="578.1" y2="688" stroke="#000" stroke-width="0.9"/>
<circle cx="576.37" cy="678.7" r="1.1" fill="#000"/>
<circle cx="575.84" cy="695" r="1.1" fill="#000"/>
<circle cx="575.98" cy="701.2" r="1.1" fill="#000"/>
<line x1="562.5" y1="770.9" x2="562.5" y2="774.1" stroke="#000" stroke-width="1"/>
<text x="562.5" y="786.4" font-size="10.2" font-weight="bold" text-anchor="middle" fill="#000">LDHA</text>
<rect x="588.4" y="728.4" width="5.9" height="42.5" fill="#00007e" stroke="#111" stroke-width="0.55"/>
<line x1="591.35" y1="728.4" x2="591.35" y2="723.2" stroke="#000" stroke-width="0.9"/>
<line x1="589.45" y1="723.2" x2="593.25" y2="723.2" stroke="#000" stroke-width="0.9"/>
<circle cx="591.84" cy="715.2" r="1.1" fill="#000"/>
<circle cx="590.5" cy="731" r="1.1" fill="#000"/>
<circle cx="591.47" cy="737.3" r="1.1" fill="#000"/>
<rect x="597.55" y="731" width="5.9" height="39.9" fill="#9c0000" stroke="#111" stroke-width="0.55"/>
<line x1="600.5" y1="731" x2="600.5" y2="723.5" stroke="#000" stroke-width="0.9"/>
<line x1="598.6" y1="723.5" x2="602.4" y2="723.5" stroke="#000" stroke-width="0.9"/>
<circle cx="600.92" cy="723.9" r="1.1" fill="#000"/>
<circle cx="600.16" cy="726.5" r="1.1" fill="#000"/>
<circle cx="600" cy="736.9" r="1.1" fill="#000"/>
<rect x="606.7" y="755.3" width="5.9" height="15.6" fill="#005a00" stroke="#111" stroke-width="0.55"/>
<line x1="609.65" y1="755.3" x2="609.65" y2="749.2" stroke="#000" stroke-width="0.9"/>
<line x1="607.75" y1="749.2" x2="611.55" y2="749.2" stroke="#000" stroke-width="0.9"/>
<circle cx="610.2" cy="748.6" r="1.1" fill="#000"/>
<circle cx="609.18" cy="751.8" r="1.1" fill="#000"/>
<circle cx="609.09" cy="766.8" r="1.1" fill="#000"/>
<rect x="615.85" y="709.2" width="5.9" height="61.7" fill="#98641f" stroke="#111" stroke-width="0.55"/>
<line x1="618.8" y1="709.2" x2="618.8" y2="705.7" stroke="#000" stroke-width="0.9"/>
<line x1="616.9" y1="705.7" x2="620.7" y2="705.7" stroke="#000" stroke-width="0.9"/>
<circle cx="618.68" cy="706.4" r="1.1" fill="#000"/>
<circle cx="619.16" cy="708.3" r="1.1" fill="#000"/>
<circle cx="618.08" cy="712.9" r="1.1" fill="#000"/>
<line x1="604.8" y1="770.9" x2="604.8" y2="774.1" stroke="#000" stroke-width="1"/>
<text x="604.8" y="786.4" font-size="10.2" font-weight="bold" text-anchor="middle" fill="#000">MCTs1</text>
<polyline points="89.1,708.9 89.1,697.2 97.8,697.2 97.8,702" fill="none" stroke="#000" stroke-width="0.9"/>
<text x="94.6" y="692.3" font-size="6.2" font-weight="bold" text-anchor="middle" fill="#000">p=0.055</text>
<polyline points="130.9,741 130.9,699.3 139.8,699.3 139.8,704.1" fill="none" stroke="#000" stroke-width="0.9"/>
<text x="135.2" y="697" font-size="7" font-weight="bold" text-anchor="middle" fill="#000">***</text>
<polyline points="172.8,710.7 172.8,661.3 182.6,661.3 182.6,667.2" fill="none" stroke="#000" stroke-width="0.9"/>
<text x="177.2" y="660" font-size="7" font-weight="bold" text-anchor="middle" fill="#000">**</text>
<polyline points="214.8,717.2 214.8,668.3 223.9,668.3 223.9,673.7" fill="none" stroke="#000" stroke-width="0.9"/>
<text x="219.1" y="666.1" font-size="7" font-weight="bold" text-anchor="middle" fill="#000">**</text>
<polyline points="256.3,733.5 256.3,689.3 264.8,689.3 264.8,695.4" fill="none" stroke="#000" stroke-width="0.9"/>
<text x="260.4" y="687.8" font-size="7" font-weight="bold" text-anchor="middle" fill="#000">*</text>
<polyline points="297.6,724.8 297.6,689.6 306.5,689.6 306.5,695" fill="none" stroke="#000" stroke-width="0.9"/>
<text x="302.2" y="687.8" font-size="7" font-weight="bold" text-anchor="middle" fill="#000">**</text>
<polyline points="353.9,748 353.9,692.6 362.6,692.6 362.6,697.6" fill="none" stroke="#000" stroke-width="0.9"/>
<text x="358.3" y="690" font-size="7" font-weight="bold" text-anchor="middle" fill="#000">**</text>
<polyline points="396.7,741.1 396.7,686.3 405.7,686.3 405.7,692.2" fill="none" stroke="#000" stroke-width="0.9"/>
<text x="401.1" y="683.9" font-size="7" font-weight="bold" text-anchor="middle" fill="#000">***</text>
<polyline points="439.3,732.8 439.3,692.8 448.5,692.8 448.5,698.7" fill="none" stroke="#000" stroke-width="0.9"/>
<text x="443.7" y="688.6" font-size="6.2" font-weight="bold" text-anchor="middle" fill="#000">ns</text>
<polyline points="481.5,731.3 481.5,644.8 490.9,644.8 490.9,649.8" fill="none" stroke="#000" stroke-width="0.9"/>
<text x="486.3" y="642.6" font-size="7" font-weight="bold" text-anchor="middle" fill="#000">***</text>
<polyline points="524.3,738.9 524.3,698.3 533.3,698.3 533.3,704.1" fill="none" stroke="#000" stroke-width="0.9"/>
<text x="528.7" y="695.9" font-size="7" font-weight="bold" text-anchor="middle" fill="#000">***</text>
<polyline points="567,745.4 567,669.3 575.7,669.3 575.7,675.4" fill="none" stroke="#000" stroke-width="0.9"/>
<text x="571.3" y="667.6" font-size="7" font-weight="bold" text-anchor="middle" fill="#000">***</text>
<polyline points="609.3,750.9 609.3,693.7 618.5,693.7 618.5,699.3" fill="none" stroke="#000" stroke-width="0.9"/>
<text x="613.9" y="691.5" font-size="7" font-weight="bold" text-anchor="middle" fill="#000">**</text></svg>
</body></html>
